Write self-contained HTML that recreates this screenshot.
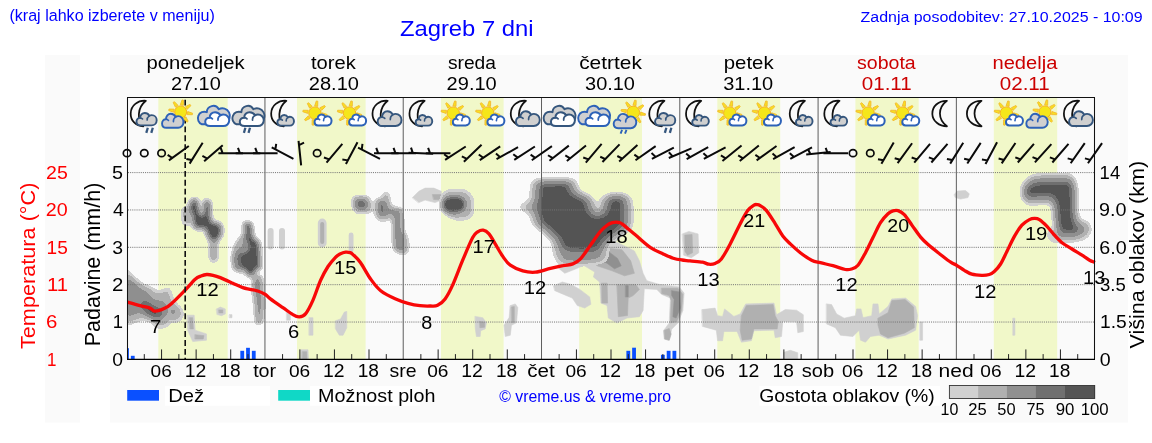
<!DOCTYPE html>
<html><head><meta charset="utf-8"><title>Zagreb 7 dni</title>
<style>html,body{margin:0;padding:0;background:#fff;}body{width:1152px;height:443px;overflow:hidden;font-family:"Liberation Sans",sans-serif;}svg{display:block;will-change:transform;}</style>
</head><body>
<svg width="1152" height="443" viewBox="0 0 1152 443" font-family="'Liberation Sans', sans-serif">
<rect width="1152" height="443" fill="#fff"/>
<rect x="45" y="55" width="35" height="367.5" fill="#fafafa"/>
<rect x="110" y="55" width="1018" height="367.5" fill="#fafafa"/>
<rect x="158.3" y="98" width="69.4" height="261" fill="#f1f8c9"/>
<rect x="297.0" y="98" width="68.6" height="261" fill="#f1f8c9"/>
<rect x="441.0" y="98" width="62.6" height="261" fill="#f1f8c9"/>
<rect x="579.2" y="98" width="62.8" height="261" fill="#f1f8c9"/>
<rect x="717.3" y="98" width="62.9" height="261" fill="#f1f8c9"/>
<rect x="855.4" y="98" width="63.3" height="261" fill="#f1f8c9"/>
<rect x="993.8" y="98" width="63.4" height="261" fill="#f1f8c9"/>
<defs><clipPath id="pc"><rect x="128" y="98" width="967" height="261"/></clipPath><filter id="cf" filterUnits="userSpaceOnUse" x="100" y="90" width="1010" height="280" color-interpolation-filters="sRGB"><feGaussianBlur stdDeviation="2.6"/><feColorMatrix type="matrix" values="0 0 0 1 0  0 0 0 1 0  0 0 0 1 0  0 0 0 1 0"/><feComponentTransfer><feFuncR type="discrete" tableValues="1 1 0.8157 0.8157 0.8157 0.6902 0.6902 0.6902 0.6902 0.6902 0.5647 0.5647 0.5647 0.5647 0.5647 0.4392 0.4392 0.4392 0.3333 0.3333"/><feFuncG type="discrete" tableValues="1 1 0.8157 0.8157 0.8157 0.6902 0.6902 0.6902 0.6902 0.6902 0.5647 0.5647 0.5647 0.5647 0.5647 0.4392 0.4392 0.4392 0.3333 0.3333"/><feFuncB type="discrete" tableValues="1 1 0.8157 0.8157 0.8157 0.6902 0.6902 0.6902 0.6902 0.6902 0.5647 0.5647 0.5647 0.5647 0.5647 0.4392 0.4392 0.4392 0.3333 0.3333"/><feFuncA type="discrete" tableValues="0 0 1 1 1 1 1 1 1 1 1 1 1 1 1 1 1 1 1 1"/></feComponentTransfer><feGaussianBlur stdDeviation="0.35"/></filter><filter id="cg" filterUnits="userSpaceOnUse" x="100" y="90" width="1010" height="280" color-interpolation-filters="sRGB"><feGaussianBlur stdDeviation="3.4 4.4"/><feColorMatrix type="matrix" values="0 0 0 1 0  0 0 0 1 0  0 0 0 1 0  0 0 0 1 0"/><feComponentTransfer><feFuncR type="discrete" tableValues="1 1 0.8157 0.8157 0.8157 0.6902 0.6902 0.6902 0.6902 0.6902 0.5647 0.5647 0.5647 0.5647 0.5647 0.5647 0.4392 0.4392 0.4392 0.3333"/><feFuncG type="discrete" tableValues="1 1 0.8157 0.8157 0.8157 0.6902 0.6902 0.6902 0.6902 0.6902 0.5647 0.5647 0.5647 0.5647 0.5647 0.5647 0.4392 0.4392 0.4392 0.3333"/><feFuncB type="discrete" tableValues="1 1 0.8157 0.8157 0.8157 0.6902 0.6902 0.6902 0.6902 0.6902 0.5647 0.5647 0.5647 0.5647 0.5647 0.5647 0.4392 0.4392 0.4392 0.3333"/><feFuncA type="discrete" tableValues="0 0 1 1 1 1 1 1 1 1 1 1 1 1 1 1 1 1 1 1"/></feComponentTransfer><feGaussianBlur stdDeviation="0.35"/></filter><filter id="ch" filterUnits="userSpaceOnUse" x="100" y="90" width="1010" height="280" color-interpolation-filters="sRGB"><feGaussianBlur stdDeviation="5 3"/><feColorMatrix type="matrix" values="0 0 0 1 0  0 0 0 1 0  0 0 0 1 0  0 0 0 1 0"/><feComponentTransfer><feFuncR type="discrete" tableValues="1 1 0.8157 0.8157 0.8157 0.6902 0.6902 0.6902 0.6902 0.6902 0.5647 0.5647 0.5647 0.5647 0.5647 0.5647 0.4392 0.4392 0.4392 0.3333"/><feFuncG type="discrete" tableValues="1 1 0.8157 0.8157 0.8157 0.6902 0.6902 0.6902 0.6902 0.6902 0.5647 0.5647 0.5647 0.5647 0.5647 0.5647 0.4392 0.4392 0.4392 0.3333"/><feFuncB type="discrete" tableValues="1 1 0.8157 0.8157 0.8157 0.6902 0.6902 0.6902 0.6902 0.6902 0.5647 0.5647 0.5647 0.5647 0.5647 0.5647 0.4392 0.4392 0.4392 0.3333"/><feFuncA type="discrete" tableValues="0 0 1 1 1 1 1 1 1 1 1 1 1 1 1 1 1 1 1 1"/></feComponentTransfer><feGaussianBlur stdDeviation="0.35"/></filter><filter id="cb" x="-5%" y="-5%" width="110%" height="110%"><feGaussianBlur stdDeviation="0.4"/></filter></defs>
<g clip-path="url(#pc)">
<g filter="url(#cb)" stroke-linejoin="round" stroke-linecap="round">
<path d="M270.6 231.0L270.6 246.5" fill="none" stroke="#d0d0d0" stroke-width="6.0"/>
<path d="M282.0 231.0L282.0 246.5" fill="none" stroke="#d0d0d0" stroke-width="6.0"/>
<path d="M322.2 223.0L322.2 243.0" fill="none" stroke="#d0d0d0" stroke-width="8.8"/>
<path d="M351.1 235.0L351.1 250.0" fill="none" stroke="#d0d0d0" stroke-width="4.8"/>
<path d="M400.0 207.0L403.0 209.0L403.0 218.0L400.0 220.0Z" fill="#d0d0d0" stroke="#d0d0d0" stroke-width="0.6"/>
<path d="M187.2 315.2L194.2 315.2L195.2 330.2L206.5 333.9L206.5 340.2L192.7 341.5L187.7 330.2Z" fill="#d0d0d0" stroke="#d0d0d0" stroke-width="0.6"/>
<path d="M216.5 308.9L220.3 307.1L225.3 308.9L225.3 313.9L221.5 315.7L217.2 314.6Z" fill="#d0d0d0" stroke="#d0d0d0" stroke-width="0.6"/>
<path d="M229.5 314.6L232.0 314.6L232.0 317.7L229.5 317.7Z" fill="#d0d0d0" stroke="#d0d0d0" stroke-width="0.6"/>
<path d="M286.7 311.4L290.4 311.4L290.4 320.2L286.7 320.2Z" fill="#d0d0d0" stroke="#d0d0d0" stroke-width="0.6"/>
<path d="M309.2 317.7L313.0 317.7L313.0 335.2L309.2 335.2Z" fill="#d0d0d0" stroke="#d0d0d0" stroke-width="0.6"/>
<path d="M335.5 320.7L340.6 318.9L344.3 312.1L346.8 311.4L346.8 327.7L343.1 335.2L339.3 335.2L335.5 328.9Z" fill="#d0d0d0" stroke="#d0d0d0" stroke-width="0.6"/>
<path d="M301.0 349.7L308.0 349.7L308.5 360.3L300.5 360.3Z" fill="#d0d0d0" stroke="#d0d0d0" stroke-width="0.6"/>
<path d="M412.5 197.6L418.8 191.3L425.1 188.1L433.8 188.1L441.4 191.3L441.4 200.1L435.1 202.6L425.1 200.1L418.8 202.6Z" fill="#d0d0d0" stroke="#d0d0d0" stroke-width="0.6"/>
<path d="M556.1 241.0L558.6 268.3L564.8 273.3L577.3 268.3L583.5 265.3L594.7 272.0L593.4 277.0L599.6 282.0L600.9 303.1L607.1 305.6L608.3 318.0L617.0 323.0L627.0 318.0L639.4 316.7L643.1 310.5L644.3 288.7L656.8 289.4L661.7 294.4L670.4 298.1L669.2 323.0L663.7 330.4L664.2 339.1L669.2 340.3L671.7 329.2L677.9 323.0L682.9 310.5L684.1 293.1L679.1 286.9L659.3 284.4L646.8 280.7L643.1 273.3L639.4 260.8L634.4 250.9L614.5 241.0Z" fill="#d0d0d0" stroke="#d0d0d0" stroke-width="0.6"/>
<path d="M553.7 285.7L562.4 282.0L571.1 284.4L579.8 289.4L589.7 296.9L590.9 304.3L584.7 308.0L577.3 305.6L572.3 298.1L563.6 294.4L554.9 290.7Z" fill="#d0d0d0" stroke="#d0d0d0" stroke-width="0.6"/>
<path d="M475.2 316.4L482.7 317.7L486.5 322.7L485.2 328.9L480.7 330.7L480.2 336.5L476.4 336.5L475.2 327.7Z" fill="#d0d0d0" stroke="#d0d0d0" stroke-width="0.6"/>
<path d="M510.3 305.6L515.3 303.9L517.8 307.6L516.5 322.7L511.5 325.2L510.3 335.2L505.3 336.5L504.0 325.2L509.0 317.7Z" fill="#d0d0d0" stroke="#d0d0d0" stroke-width="0.6"/>
<path d="M682.5 233.9L688.8 231.4L698.1 233.9L698.8 252.7L691.3 257.7L683.8 255.2Z" fill="#d0d0d0" stroke="#d0d0d0" stroke-width="0.6"/>
<path d="M702.1 309.6L715.1 308.1L717.6 315.7L722.6 316.4L724.6 308.9L733.9 316.4L740.2 313.9L745.7 303.9L774.0 303.1L776.5 314.7L785.3 309.6L796.5 310.2L803.3 314.7L803.3 331.5L797.8 332.7L796.5 321.4L782.8 321.4L781.5 336.5L775.2 337.7L774.0 330.2L753.9 330.7L751.4 340.7L741.4 342.2L737.1 331.5L723.9 331.5L722.6 340.7L717.6 340.7L716.3 330.2L702.6 326.4Z" fill="#d0d0d0" stroke="#d0d0d0" stroke-width="0.6"/>
<path d="M826.6 303.9L831.6 304.6L836.6 313.9L844.2 318.2L855.4 315.7L856.7 308.9L861.0 308.9L863.0 317.7L871.7 315.7L873.0 303.9L878.0 303.9L879.2 313.9L888.0 306.4L891.8 298.9L905.6 298.1L915.6 306.4L917.6 315.7L915.6 330.2L905.6 335.2L888.0 339.0L879.2 335.2L870.5 336.5L865.5 342.2L860.5 340.2L859.2 330.2L852.9 336.5L840.4 335.2L835.4 327.7L826.6 323.9Z" fill="#d0d0d0" stroke="#d0d0d0" stroke-width="0.6"/>
<path d="M920.1 322.2L922.6 322.2L922.6 340.2L920.1 340.2Z" fill="#d0d0d0" stroke="#d0d0d0" stroke-width="0.6"/>
<path d="M784.0 352.3L790.3 350.3L797.8 352.8L797.8 360.3L784.0 360.3Z" fill="#d0d0d0" stroke="#d0d0d0" stroke-width="0.6"/>
<path d="M954.2 194.6L957.2 191.1L965.5 190.6L969.3 193.8L968.0 197.6L960.5 199.1L955.5 197.6Z" fill="#d0d0d0" stroke="#d0d0d0" stroke-width="0.6"/>
<path d="M1013.1 318.2L1014.9 318.2L1014.9 335.2L1013.1 335.2Z" fill="#d0d0d0" stroke="#d0d0d0" stroke-width="0.6"/>
<path d="M322.2 224.0L322.2 242.0" fill="none" stroke="#b0b0b0" stroke-width="4.0"/>
<path d="M189.2 317.7L192.7 317.7L193.4 328.9L190.2 328.9Z" fill="#b0b0b0" stroke="#b0b0b0" stroke-width="0.6"/>
<path d="M195.2 334.7L204.0 335.7L203.2 339.0L195.2 339.0Z" fill="#b0b0b0" stroke="#b0b0b0" stroke-width="0.6"/>
<path d="M219.0 309.9L222.8 309.9L222.8 312.9L219.2 312.9Z" fill="#b0b0b0" stroke="#b0b0b0" stroke-width="0.6"/>
<path d="M302.5 351.7L306.7 351.7L307.0 360.3L302.2 360.3Z" fill="#b0b0b0" stroke="#b0b0b0" stroke-width="0.6"/>
<path d="M432.6 194.6L442.6 194.6L442.6 200.1L433.8 199.6Z" fill="#b0b0b0" stroke="#b0b0b0" stroke-width="0.6"/>
<path d="M601.6 283.2L607.1 283.2L607.6 303.1L602.1 303.1Z" fill="#b0b0b0" stroke="#b0b0b0" stroke-width="0.6"/>
<path d="M617.0 284.4L635.7 284.4L639.4 289.4L633.2 295.6L628.2 298.1L627.5 315.5L618.3 316.7L617.5 298.1Z" fill="#b0b0b0" stroke="#b0b0b0" stroke-width="0.6"/>
<path d="M661.7 288.2L677.9 288.2L682.9 294.4L681.6 310.5L676.6 321.7L670.4 323.0L671.2 300.6L669.2 295.6L661.7 293.6Z" fill="#b0b0b0" stroke="#b0b0b0" stroke-width="0.6"/>
<path d="M664.2 330.4L669.2 328.4L671.2 334.1L669.2 340.3L665.0 339.1Z" fill="#b0b0b0" stroke="#b0b0b0" stroke-width="0.6"/>
<path d="M584.7 245.9L622.0 249.7L630.7 260.8L634.4 273.3L624.5 275.8L612.0 270.8L597.1 265.8L588.4 258.4Z" fill="#b0b0b0" stroke="#b0b0b0" stroke-width="0.6"/>
<path d="M479.7 321.4L484.7 322.2L484.7 327.2L480.2 327.7Z" fill="#b0b0b0" stroke="#b0b0b0" stroke-width="0.6"/>
<path d="M511.5 307.1L514.3 306.6L514.3 322.2L511.8 322.7Z" fill="#b0b0b0" stroke="#b0b0b0" stroke-width="0.6"/>
<path d="M685.0 235.1L692.1 234.6L692.6 252.7L687.5 255.2L685.0 251.4Z" fill="#b0b0b0" stroke="#b0b0b0" stroke-width="0.6"/>
<path d="M741.4 315.7L746.4 305.6L773.2 304.6L775.2 315.7L778.2 321.4L777.2 328.9L753.9 328.9L751.4 339.0L742.2 340.2L740.2 330.2Z" fill="#b0b0b0" stroke="#b0b0b0" stroke-width="0.6"/>
<path d="M878.0 318.2L888.0 312.7L891.8 300.6L905.1 299.6L913.6 307.1L914.3 327.7L904.3 333.2L888.0 337.7L880.5 334.0L878.0 325.2Z" fill="#b0b0b0" stroke="#b0b0b0" stroke-width="0.6"/>
<path d="M671.7 290.7L679.1 291.9L680.4 308.0L676.1 318.0L672.9 316.7L674.2 299.4L671.7 295.6Z" fill="#909090" stroke="#909090" stroke-width="0.6"/>
<path d="M595.9 248.4L609.6 252.4L617.5 258.4L621.2 265.8L614.5 268.8L607.1 263.3L596.6 258.4Z" fill="#909090" stroke="#909090" stroke-width="0.6"/>
<path d="M625.7 285.7L628.2 285.7L628.2 296.9L625.7 296.9Z" fill="#909090" stroke="#909090" stroke-width="0.6"/>
</g>
<g filter="url(#cf)">
<path d="M189.7 204.0L192.7 199.0L197.1 199.7L198.9 208.7L200.1 214.6L202.7 216.4L204.1 210.4L204.1 202.4L206.7 199.4L209.9 202.4L210.3 217.9L211.9 222.9L217.3 222.6L221.5 226.3L221.5 234.6L217.3 240.0L213.6 240.8L209.4 239.1L206.9 233.8L205.2 227.9L201.1 228.3L196.9 229.1L193.5 225.8L192.7 217.1L190.2 210.4Z" fill="#000" fill-opacity="1.0"/>
<path d="M209.9 239.6L217.3 240.5L217.1 258.8L213.6 262.2L210.1 258.8Z" fill="#000" fill-opacity="0.5"/>
<path d="M182.4 209.5L189.4 206.2L190.7 223.8L183.4 224.6Z" fill="#000" fill-opacity="0.42"/>
<path d="M244.2 223.1L251.2 223.1L252.2 235.1L254.5 239.6L259.1 242.5L260.4 268.9L242.0 268.9L244.5 258.0L248.7 247.1L245.2 236.3Z" fill="#000" fill-opacity="1.0"/>
<path d="M242.5 234.6L234.5 247.1L233.2 268.9L242.8 268.9L247.9 247.1L246.5 237.1Z" fill="#000" fill-opacity="0.5"/>
<path d="M239.8 252.5L257.3 252.5L257.3 265.0L254.1 275.1L249.1 276.3L244.1 270.0L240.3 262.5Z" fill="#000" fill-opacity="0.97"/>
<path d="M232.8 252.5L240.3 252.5L242.8 270.0L237.8 272.5L233.3 265.0Z" fill="#000" fill-opacity="0.5"/>
<path d="M254.1 275.1L261.6 277.6L263.4 305.1L261.6 322.7L256.6 323.9L255.3 305.1L252.8 285.1Z" fill="#000" fill-opacity="0.62"/>
<path d="M355.1 200.1L360.6 198.3L366.9 200.1L368.6 205.1L365.6 209.6L358.1 209.6L354.3 206.4Z" fill="#000" fill-opacity="0.8"/>
<path d="M353.1 196.3L368.1 196.3L371.9 205.1L370.6 213.1L355.6 213.1L352.6 205.1Z" fill="#000" fill-opacity="0.3"/>
<path d="M377.6 202.1L383.2 200.8L384.2 215.1L379.4 216.9Z" fill="#000" fill-opacity="0.85"/>
<path d="M383.2 193.1L388.7 193.1L389.2 205.1L383.2 205.1Z" fill="#000" fill-opacity="0.4"/>
<path d="M392.7 208.9L401.7 208.9L402.5 250.2L394.4 250.2Z" fill="#000" fill-opacity="0.66"/>
<path d="M383.2 205.1L394.4 207.6L394.4 215.6L383.2 216.9Z" fill="#000" fill-opacity="0.42"/>
<path d="M374.4 202.6L378.1 197.6L390.2 202.6L390.7 218.9L380.7 221.4L375.1 215.1Z" fill="#000" fill-opacity="0.3"/>
<path d="M398.0 230.0L405.0 233.0L408.0 244.0L407.0 253.0L399.0 254.0Z" fill="#000" fill-opacity="0.45"/>
<path d="M125.0 267.5L135.0 278.1L143.1 284.6L150.6 287.1L157.6 292.1L164.6 289.6L169.1 287.1L171.9 296.4L176.6 305.1L181.9 308.9L183.2 316.4L177.6 321.9L170.1 321.2L166.6 326.9L157.6 328.2L150.1 320.7L142.6 319.4L135.0 321.9L125.0 325.7Z" fill="#000" fill-opacity="0.3"/>
<path d="M125.0 276.3L133.8 282.1L140.1 288.3L147.6 292.1L152.6 298.4L157.6 300.9L162.6 299.6L166.9 305.1L166.9 315.2L160.1 321.2L152.6 319.4L145.1 314.4L137.5 313.1L131.3 315.7L125.0 316.9Z" fill="#000" fill-opacity="0.55"/>
<path d="M140.1 302.6L148.1 302.6L154.6 308.1L162.1 310.6L160.6 317.7L153.3 317.7L145.8 313.6Z" fill="#000" fill-opacity="0.75"/>
<path d="M168.9 307.6L177.1 308.1L178.1 315.2L170.1 316.4Z" fill="#000" fill-opacity="0.4"/>
<path d="M441.1 205.1L443.6 199.1L449.6 196.3L458.6 196.1L464.7 199.6L466.2 205.1L463.2 211.1L455.6 213.6L448.1 213.1L443.1 210.1Z" fill="#000" fill-opacity="1.0"/>
<path d="M442.1 193.8L450.1 189.6L466.4 190.6L473.2 198.1L473.2 214.6L466.7 219.6L454.1 219.6L446.6 214.6L441.6 205.1Z" fill="#000" fill-opacity="0.3"/>
</g>
<g filter="url(#cg)">
<path d="M1023.1 188.6L1029.3 181.1L1036.7 178.6L1070.3 177.9L1074.5 184.8L1075.2 215.9L1077.7 225.1L1081.4 228.3L1076.5 234.5L1067.8 237.0L1059.1 234.5L1056.1 227.1L1054.6 204.7L1051.6 199.8L1039.2 199.8L1029.3 201.0L1023.8 197.3Z" fill="#000" fill-opacity="1.0"/>
<path d="M1072.7 222.1L1085.9 224.1L1090.9 229.6L1082.9 236.5L1071.0 238.3L1064.0 234.5Z" fill="#000" fill-opacity="0.66"/>
<path d="M1048.6 230.8L1059.1 233.5L1067.8 240.7L1052.9 240.0L1047.2 235.8Z" fill="#000" fill-opacity="0.42"/>
</g>
<g filter="url(#ch)">
<path d="M536.1 181.4L571.6 180.9L574.1 189.9L575.1 192.8L585.8 196.8L591.0 202.3L592.5 210.2L596.5 215.7L602.4 211.7L605.4 198.3L615.6 194.8L626.3 197.3L627.8 205.3L627.8 226.4L619.3 233.1L609.4 240.0L600.7 250.5L584.5 252.5L569.6 251.7L559.7 248.0L554.7 238.8L547.3 231.4L536.8 223.2L533.9 209.0L534.8 200.3Z" fill="#000" fill-opacity="1.0"/>
<path d="M519.9 205.3L534.8 200.8L537.3 213.2L524.9 211.2Z" fill="#000" fill-opacity="0.36"/>
<path d="M557.4 241.0L602.1 241.0L605.1 253.4L603.4 260.8L579.8 263.8L561.1 262.8L556.9 253.4Z" fill="#000" fill-opacity="0.62"/>
</g>
</g>
<rect x="264.44" y="98" width="1.0" height="261" fill="#5e5e5e"/>
<rect x="402.72" y="98" width="1.0" height="261" fill="#5e5e5e"/>
<rect x="541.01" y="98" width="1.0" height="261" fill="#5e5e5e"/>
<rect x="679.29" y="98" width="1.0" height="261" fill="#5e5e5e"/>
<rect x="817.58" y="98" width="1.0" height="261" fill="#5e5e5e"/>
<rect x="955.86" y="98" width="1.0" height="261" fill="#5e5e5e"/>
<line x1="128" x2="1095" y1="322.04" y2="322.04" stroke="#747474" stroke-width="1" stroke-dasharray="1.05 1.08"/>
<line x1="128" x2="1095" y1="284.68" y2="284.68" stroke="#747474" stroke-width="1" stroke-dasharray="1.05 1.08"/>
<line x1="128" x2="1095" y1="247.32" y2="247.32" stroke="#747474" stroke-width="1" stroke-dasharray="1.05 1.08"/>
<line x1="128" x2="1095" y1="209.96" y2="209.96" stroke="#747474" stroke-width="1" stroke-dasharray="1.05 1.08"/>
<line x1="128" x2="1095" y1="172.60" y2="172.60" stroke="#747474" stroke-width="1" stroke-dasharray="1.05 1.08"/>
<rect x="128.00" y="348.20" width="0.90" height="10.80" fill="#0a50ff"/>
<rect x="130.86" y="355.80" width="3.80" height="3.20" fill="#0a50ff"/>
<rect x="240.34" y="350.80" width="3.80" height="8.20" fill="#0a50ff"/>
<rect x="246.10" y="347.80" width="3.80" height="11.20" fill="#0a50ff"/>
<rect x="251.86" y="350.80" width="3.80" height="8.20" fill="#0a50ff"/>
<rect x="626.39" y="350.80" width="3.80" height="8.20" fill="#0a50ff"/>
<rect x="632.15" y="347.70" width="3.80" height="11.30" fill="#0a50ff"/>
<rect x="660.96" y="354.80" width="3.80" height="4.20" fill="#0a50ff"/>
<rect x="666.72" y="350.80" width="3.80" height="8.20" fill="#0a50ff"/>
<rect x="672.48" y="350.80" width="3.80" height="8.20" fill="#0a50ff"/>
<line x1="144.29" x2="144.29" y1="354.1" y2="359.5" stroke="#222" stroke-width="1"/>
<line x1="161.57" x2="161.57" y1="349.4" y2="359.5" stroke="#222" stroke-width="1"/>
<line x1="178.86" x2="178.86" y1="354.1" y2="359.5" stroke="#222" stroke-width="1"/>
<line x1="196.14" x2="196.14" y1="349.4" y2="359.5" stroke="#222" stroke-width="1"/>
<line x1="213.43" x2="213.43" y1="354.1" y2="359.5" stroke="#222" stroke-width="1"/>
<line x1="230.71" x2="230.71" y1="349.4" y2="359.5" stroke="#222" stroke-width="1"/>
<line x1="248.00" x2="248.00" y1="354.1" y2="359.5" stroke="#222" stroke-width="1"/>
<line x1="282.57" x2="282.57" y1="354.1" y2="359.5" stroke="#222" stroke-width="1"/>
<line x1="299.86" x2="299.86" y1="349.4" y2="359.5" stroke="#222" stroke-width="1"/>
<line x1="317.14" x2="317.14" y1="354.1" y2="359.5" stroke="#222" stroke-width="1"/>
<line x1="334.43" x2="334.43" y1="349.4" y2="359.5" stroke="#222" stroke-width="1"/>
<line x1="351.71" x2="351.71" y1="354.1" y2="359.5" stroke="#222" stroke-width="1"/>
<line x1="369.00" x2="369.00" y1="349.4" y2="359.5" stroke="#222" stroke-width="1"/>
<line x1="386.29" x2="386.29" y1="354.1" y2="359.5" stroke="#222" stroke-width="1"/>
<line x1="420.86" x2="420.86" y1="354.1" y2="359.5" stroke="#222" stroke-width="1"/>
<line x1="438.14" x2="438.14" y1="349.4" y2="359.5" stroke="#222" stroke-width="1"/>
<line x1="455.43" x2="455.43" y1="354.1" y2="359.5" stroke="#222" stroke-width="1"/>
<line x1="472.71" x2="472.71" y1="349.4" y2="359.5" stroke="#222" stroke-width="1"/>
<line x1="490.00" x2="490.00" y1="354.1" y2="359.5" stroke="#222" stroke-width="1"/>
<line x1="507.29" x2="507.29" y1="349.4" y2="359.5" stroke="#222" stroke-width="1"/>
<line x1="524.57" x2="524.57" y1="354.1" y2="359.5" stroke="#222" stroke-width="1"/>
<line x1="559.14" x2="559.14" y1="354.1" y2="359.5" stroke="#222" stroke-width="1"/>
<line x1="576.43" x2="576.43" y1="349.4" y2="359.5" stroke="#222" stroke-width="1"/>
<line x1="593.71" x2="593.71" y1="354.1" y2="359.5" stroke="#222" stroke-width="1"/>
<line x1="611.00" x2="611.00" y1="349.4" y2="359.5" stroke="#222" stroke-width="1"/>
<line x1="628.29" x2="628.29" y1="354.1" y2="359.5" stroke="#222" stroke-width="1"/>
<line x1="645.57" x2="645.57" y1="349.4" y2="359.5" stroke="#222" stroke-width="1"/>
<line x1="662.86" x2="662.86" y1="354.1" y2="359.5" stroke="#222" stroke-width="1"/>
<line x1="697.43" x2="697.43" y1="354.1" y2="359.5" stroke="#222" stroke-width="1"/>
<line x1="714.71" x2="714.71" y1="349.4" y2="359.5" stroke="#222" stroke-width="1"/>
<line x1="732.00" x2="732.00" y1="354.1" y2="359.5" stroke="#222" stroke-width="1"/>
<line x1="749.29" x2="749.29" y1="349.4" y2="359.5" stroke="#222" stroke-width="1"/>
<line x1="766.57" x2="766.57" y1="354.1" y2="359.5" stroke="#222" stroke-width="1"/>
<line x1="783.86" x2="783.86" y1="349.4" y2="359.5" stroke="#222" stroke-width="1"/>
<line x1="801.14" x2="801.14" y1="354.1" y2="359.5" stroke="#222" stroke-width="1"/>
<line x1="835.71" x2="835.71" y1="354.1" y2="359.5" stroke="#222" stroke-width="1"/>
<line x1="853.00" x2="853.00" y1="349.4" y2="359.5" stroke="#222" stroke-width="1"/>
<line x1="870.29" x2="870.29" y1="354.1" y2="359.5" stroke="#222" stroke-width="1"/>
<line x1="887.57" x2="887.57" y1="349.4" y2="359.5" stroke="#222" stroke-width="1"/>
<line x1="904.86" x2="904.86" y1="354.1" y2="359.5" stroke="#222" stroke-width="1"/>
<line x1="922.14" x2="922.14" y1="349.4" y2="359.5" stroke="#222" stroke-width="1"/>
<line x1="939.43" x2="939.43" y1="354.1" y2="359.5" stroke="#222" stroke-width="1"/>
<line x1="974.00" x2="974.00" y1="354.1" y2="359.5" stroke="#222" stroke-width="1"/>
<line x1="991.29" x2="991.29" y1="349.4" y2="359.5" stroke="#222" stroke-width="1"/>
<line x1="1008.57" x2="1008.57" y1="354.1" y2="359.5" stroke="#222" stroke-width="1"/>
<line x1="1025.86" x2="1025.86" y1="349.4" y2="359.5" stroke="#222" stroke-width="1"/>
<line x1="1043.14" x2="1043.14" y1="354.1" y2="359.5" stroke="#222" stroke-width="1"/>
<line x1="1060.43" x2="1060.43" y1="349.4" y2="359.5" stroke="#222" stroke-width="1"/>
<line x1="1077.71" x2="1077.71" y1="354.1" y2="359.5" stroke="#222" stroke-width="1"/>
<path d="M127.5 302.1C129.6 302.7 136.2 304.6 140.0 305.6C143.8 306.6 147.5 307.2 150.0 308.1C152.5 309.0 152.6 311.1 155.1 311.1C157.6 311.1 162.2 309.5 165.1 308.1C168.0 306.7 169.2 305.6 172.6 302.6C175.9 299.6 181.4 293.9 185.2 290.0C189.0 286.1 192.6 281.6 195.2 279.3C197.8 277.0 199.1 276.8 201.0 276.0C202.9 275.2 204.8 274.6 206.8 274.5C208.8 274.4 210.8 274.8 213.0 275.3C215.2 275.8 217.0 276.3 220.3 277.6C223.6 278.9 229.1 281.5 232.8 283.2C236.6 284.9 239.9 286.6 242.8 287.6C245.7 288.6 247.5 288.7 250.0 289.3C252.5 289.9 255.2 290.1 257.8 291.0C260.4 291.9 263.3 293.2 265.4 294.5C267.5 295.8 267.5 296.7 270.4 298.9C273.3 301.1 279.1 305.0 282.9 307.6C286.6 310.2 290.2 313.1 292.9 314.6C295.6 316.2 297.1 317.0 299.2 316.9C301.3 316.8 303.2 316.7 305.5 313.9C307.8 311.1 310.5 305.7 313.0 300.1C315.5 294.5 318.0 286.1 320.5 280.5C323.0 274.9 325.5 270.4 328.0 266.5C330.5 262.6 333.5 259.4 335.5 257.3C337.5 255.2 338.3 254.9 340.0 254.0C341.7 253.1 343.9 252.3 345.6 252.1C347.3 251.9 348.8 252.2 350.0 252.6C351.2 253.0 351.2 252.9 353.0 254.6C354.8 256.3 357.7 258.6 360.6 262.7C363.5 266.8 367.2 274.3 370.6 279.0C374.0 283.7 376.5 287.4 380.7 290.7C384.9 294.0 391.1 296.9 395.7 299.0C400.2 301.1 403.9 302.2 408.0 303.3C412.1 304.4 416.3 305.2 420.0 305.6C423.7 306.1 427.1 306.1 430.0 306.0C432.9 305.9 435.1 306.5 437.6 305.3C440.1 304.1 442.6 302.4 445.1 299.0C447.6 295.6 449.7 291.7 452.6 285.2C455.5 278.7 459.4 268.1 462.7 260.2C466.0 252.3 470.2 242.3 472.7 237.6C475.2 232.9 475.9 233.1 477.7 231.8C479.4 230.6 481.3 229.8 483.2 230.1C485.1 230.4 487.0 231.5 489.0 233.8C491.0 236.1 492.9 240.1 495.2 243.9C497.5 247.7 500.3 252.8 502.8 256.4C505.3 259.9 507.0 262.8 510.3 265.2C513.6 267.6 518.6 269.7 522.8 270.9C527.0 272.1 530.7 272.6 535.3 272.2C539.9 271.8 545.8 269.5 550.4 268.4C555.0 267.3 559.1 266.4 562.9 265.7C566.6 264.9 570.0 265.0 572.9 263.9C575.8 262.8 577.6 262.0 580.5 258.9C583.4 255.8 587.2 249.7 590.5 245.1C593.8 240.5 597.6 234.7 600.5 231.3C603.4 227.9 606.0 226.1 608.0 224.6C610.0 223.1 611.2 223.0 612.5 222.6C613.8 222.2 614.8 222.1 616.0 222.1C617.2 222.1 618.3 222.2 619.5 222.6C620.7 223.0 620.3 222.5 623.0 224.6C625.7 226.7 631.0 231.3 635.6 235.1C640.2 238.9 646.0 244.5 650.6 247.6C655.2 250.7 659.4 252.1 663.2 253.9C667.0 255.7 670.1 257.2 673.2 258.2C676.3 259.2 679.2 259.6 682.0 260.0C684.8 260.4 686.6 260.5 690.0 260.9C693.4 261.3 699.5 261.6 702.6 262.2C705.7 262.8 706.7 264.0 708.8 264.2C710.9 264.4 713.0 264.3 715.1 263.4C717.2 262.5 718.9 262.1 721.4 258.9C723.9 255.6 727.1 249.8 730.2 243.9C733.3 238.1 737.3 229.4 740.2 223.8C743.1 218.2 745.4 213.7 747.7 210.6C750.0 207.5 752.5 206.2 754.0 205.2C755.5 204.2 756.0 204.5 757.0 204.6C758.0 204.7 758.6 204.6 760.2 205.6C761.8 206.6 764.0 207.6 766.5 210.6C769.0 213.6 772.6 219.6 775.3 223.8C778.0 228.0 780.3 232.6 782.8 235.9C785.3 239.2 787.4 241.1 790.3 243.9C793.2 246.7 796.8 250.0 800.3 252.7C803.8 255.4 808.2 258.5 811.6 260.2C815.0 261.9 816.9 261.8 820.4 262.7C823.9 263.6 828.7 264.6 832.9 265.7C837.1 266.8 842.3 268.9 845.4 269.5C848.5 270.1 849.6 269.7 851.7 269.0C853.8 268.3 855.7 267.9 858.0 265.2C860.3 262.5 863.0 257.3 865.5 252.7C868.0 248.1 870.5 242.6 873.0 237.6C875.5 232.6 878.0 226.6 880.5 222.6C883.0 218.6 885.9 215.8 888.0 213.8C890.1 211.8 891.3 211.3 893.0 210.8C894.7 210.3 896.1 210.0 898.0 210.6C899.9 211.2 902.0 212.2 904.3 214.6C906.6 217.0 909.2 221.3 911.9 225.1C914.6 228.8 917.9 233.8 920.6 237.1C923.3 240.3 925.2 242.0 928.1 244.6C931.0 247.2 934.4 249.8 938.2 252.7C942.0 255.6 947.6 260.1 950.7 262.2C953.8 264.3 954.4 263.9 956.7 265.3C959.0 266.7 961.8 268.8 964.3 270.3C966.8 271.8 968.9 273.4 971.8 274.2C974.7 275.0 978.9 275.2 981.8 275.3C984.7 275.4 987.2 275.1 989.3 274.5C991.4 273.9 992.4 273.2 994.3 271.5C996.2 269.8 998.5 267.3 1000.6 264.0C1002.7 260.7 1004.6 256.1 1006.9 251.5C1009.2 246.9 1011.9 240.8 1014.4 236.4C1016.9 232.0 1019.4 228.0 1021.9 225.2C1024.4 222.4 1027.3 220.7 1029.4 219.6C1031.5 218.5 1032.7 218.4 1034.4 218.4C1036.1 218.4 1037.3 218.3 1039.4 219.6C1041.5 220.9 1044.5 223.8 1047.0 226.4C1049.5 229.0 1052.0 232.5 1054.5 235.2C1057.0 237.9 1059.1 240.4 1062.0 242.7C1064.9 245.0 1068.7 246.9 1072.0 249.0C1075.3 251.1 1079.1 253.3 1082.0 255.2C1084.9 257.1 1087.4 259.0 1089.6 260.2C1091.8 261.4 1094.1 262.0 1095.0 262.4" fill="none" stroke="#f80808" stroke-width="3.3" stroke-linejoin="round" stroke-linecap="butt"/>
<line x1="185.2" x2="185.2" y1="99.7" y2="359" stroke="#111" stroke-width="1.6" stroke-dasharray="5.9 3"/>
<path d="M127.5 359.5 V97.5 H1094.5 V359.5" fill="none" stroke="#111" stroke-width="1.05"/>
<line x1="127" x2="1095" y1="359.3" y2="359.3" stroke="#000" stroke-width="1.3"/>
<g>
<path d="M145.89 100.8C137.79 100.2 130.89 105.5 130.69 113.4C130.49 120.5 135.79 126.0 143.29 126.3C139.79 123.0 138.59 118.5 138.89 114.0C139.19 108.8 141.89 104.0 145.89 100.8Z" fill="none" stroke="#111" stroke-width="1.75" stroke-linejoin="round"/><path d="M140.53 125.40C138.00 125.40 136.49 123.80 136.49 121.56C136.49 119.32 138.10 117.83 140.22 117.93C140.12 115.16 142.14 113.03 144.77 113.03C146.79 113.03 148.40 114.09 149.31 115.80C150.02 115.37 150.83 115.16 151.74 115.16C154.56 115.16 156.69 117.51 156.69 120.28C156.69 123.16 154.46 125.40 151.64 125.40Z" fill="#d0d0d0" stroke="#35567d" stroke-width="1.9" stroke-linejoin="round"/><path d="M149.31 115.80C147.80 116.87 146.99 118.36 147.19 120.07M140.22 117.93C141.13 117.93 141.94 118.36 142.55 119.00" fill="none" stroke="#35567d" stroke-width="1.61" stroke-linecap="round"/><line x1="147.79" y1="127.8" x2="146.29" y2="132.9" stroke="#35567d" stroke-width="2.3"/><line x1="152.79" y1="127.8" x2="151.29" y2="132.9" stroke="#35567d" stroke-width="2.3"/>
<path d="M187.18 114.62L192.34 114.72L192.61 113.25L187.72 111.57Z" fill="#f7e120" stroke="#f4b830" stroke-width="0.9" stroke-linejoin="round"/><path d="M187.20 109.21L190.92 105.63L190.06 104.40L185.42 106.67Z" fill="#f7e120" stroke="#f4b830" stroke-width="0.9" stroke-linejoin="round"/><path d="M183.38 105.37L183.48 100.21L182.00 99.95L180.33 104.84Z" fill="#f7e120" stroke="#f4b830" stroke-width="0.9" stroke-linejoin="round"/><path d="M177.97 105.36L174.39 101.64L173.16 102.50L175.43 107.14Z" fill="#f7e120" stroke="#f4b830" stroke-width="0.9" stroke-linejoin="round"/><path d="M174.13 109.18L168.97 109.08L168.71 110.55L173.59 112.23Z" fill="#f7e120" stroke="#f4b830" stroke-width="0.9" stroke-linejoin="round"/><path d="M174.12 114.59L170.40 118.17L171.26 119.40L175.89 117.13Z" fill="#f7e120" stroke="#f4b830" stroke-width="0.9" stroke-linejoin="round"/><path d="M177.93 118.43L177.83 123.59L179.31 123.85L180.99 118.96Z" fill="#f7e120" stroke="#f4b830" stroke-width="0.9" stroke-linejoin="round"/><path d="M183.35 118.44L186.93 122.16L188.15 121.30L185.88 116.66Z" fill="#f7e120" stroke="#f4b830" stroke-width="0.9" stroke-linejoin="round"/><circle cx="180.66" cy="111.90" r="6.0" fill="#f5e61a" stroke="#f7b21a" stroke-width="1"/><path d="M166.34 127.80C163.66 127.80 162.06 125.97 162.06 123.42C162.06 120.87 163.77 119.16 166.02 119.28C165.91 116.12 168.05 113.69 170.83 113.69C172.97 113.69 174.68 114.90 175.65 116.85C176.40 116.36 177.25 116.12 178.21 116.12C181.21 116.12 183.46 118.80 183.46 121.96C183.46 125.25 181.10 127.80 178.11 127.80Z" fill="#d0d0d0" stroke="#2d62b8" stroke-width="1.9" stroke-linejoin="round"/><path d="M175.65 116.85C174.04 118.07 173.19 119.77 173.40 121.72M166.02 119.28C166.98 119.28 167.84 119.77 168.48 120.50" fill="none" stroke="#2d62b8" stroke-width="1.61" stroke-linecap="round"/>
<path d="M201.93 124.3A6.5 6.5 0 1 1 206.83 112.2A6.4 6.4 0 0 1 218.83 109.2A7 7 0 0 1 225.83 122.6L225.43 124.3Z" fill="#d0d0d0" stroke="#2d62b8" stroke-width="1.9" stroke-linejoin="round"/><path d="M210.03 126.10C207.03 126.10 205.23 124.30 205.23 121.78C205.23 119.26 207.15 117.58 209.67 117.70C209.55 114.58 211.95 112.18 215.07 112.18C217.47 112.18 219.39 113.38 220.47 115.30C221.31 114.82 222.27 114.58 223.35 114.58C226.71 114.58 229.23 117.22 229.23 120.34C229.23 123.58 226.59 126.10 223.23 126.10Z" fill="#fff" stroke="#2d62b8" stroke-width="2.0" stroke-linejoin="round"/><path d="M220.47 115.30C218.67 116.50 217.71 118.18 217.95 120.10M209.67 117.70C210.75 117.70 211.71 118.18 212.43 118.90" fill="none" stroke="#2d62b8" stroke-width="1.70" stroke-linecap="round"/>
<path d="M236.50 124.3A6.5 6.5 0 1 1 241.40 112.2A6.4 6.4 0 0 1 253.40 109.2A7 7 0 0 1 260.40 122.6L260.00 124.3Z" fill="#d0d0d0" stroke="#35567d" stroke-width="1.9" stroke-linejoin="round"/><path d="M244.60 126.10C241.60 126.10 239.80 124.30 239.80 121.78C239.80 119.26 241.72 117.58 244.24 117.70C244.12 114.58 246.52 112.18 249.64 112.18C252.04 112.18 253.96 113.38 255.04 115.30C255.88 114.82 256.84 114.58 257.92 114.58C261.28 114.58 263.80 117.22 263.80 120.34C263.80 123.58 261.16 126.10 257.80 126.10Z" fill="#fff" stroke="#35567d" stroke-width="2.0" stroke-linejoin="round"/><path d="M255.04 115.30C253.24 116.50 252.28 118.18 252.52 120.10M244.24 117.70C245.32 117.70 246.28 118.18 247.00 118.90" fill="none" stroke="#35567d" stroke-width="1.70" stroke-linecap="round"/><line x1="245.40" y1="127.8" x2="243.90" y2="132.9" stroke="#35567d" stroke-width="2.3"/><line x1="250.00" y1="127.8" x2="248.50" y2="132.9" stroke="#35567d" stroke-width="2.3"/>
<path d="M286.37 100.8C278.27 100.2 271.37 105.5 271.17 113.4C270.97 120.5 276.27 126.0 283.77 126.3C280.27 123.0 279.07 118.5 279.37 114.0C279.67 108.8 282.37 104.0 286.37 100.8Z" fill="none" stroke="#111" stroke-width="1.75" stroke-linejoin="round"/><path d="M280.69 125.60C278.62 125.60 277.37 124.22 277.37 122.30C277.37 120.38 278.70 119.09 280.44 119.18C280.36 116.80 282.02 114.97 284.18 114.97C285.84 114.97 287.17 115.88 287.91 117.35C288.49 116.98 289.16 116.80 289.90 116.80C292.23 116.80 293.97 118.82 293.97 121.20C293.97 123.67 292.15 125.60 289.82 125.60Z" fill="#d0d0d0" stroke="#35567d" stroke-width="1.9" stroke-linejoin="round"/><path d="M287.91 117.35C286.67 118.27 286.00 119.55 286.17 121.02M280.44 119.18C281.19 119.18 281.85 119.55 282.35 120.10" fill="none" stroke="#35567d" stroke-width="1.61" stroke-linecap="round"/>
<path d="M321.67 115.86L326.83 115.96L327.09 114.48L322.20 112.81Z" fill="#f7e120" stroke="#f4b830" stroke-width="0.9" stroke-linejoin="round"/><path d="M321.65 110.30L325.37 106.72L324.51 105.49L319.87 107.76Z" fill="#f7e120" stroke="#f4b830" stroke-width="0.9" stroke-linejoin="round"/><path d="M317.70 106.38L317.80 101.22L316.32 100.96L314.65 105.84Z" fill="#f7e120" stroke="#f4b830" stroke-width="0.9" stroke-linejoin="round"/><path d="M312.14 106.39L308.56 102.68L307.33 103.54L309.60 108.17Z" fill="#f7e120" stroke="#f4b830" stroke-width="0.9" stroke-linejoin="round"/><path d="M308.22 110.34L303.06 110.24L302.80 111.72L307.68 113.39Z" fill="#f7e120" stroke="#f4b830" stroke-width="0.9" stroke-linejoin="round"/><path d="M308.24 115.90L304.52 119.48L305.38 120.71L310.02 118.44Z" fill="#f7e120" stroke="#f4b830" stroke-width="0.9" stroke-linejoin="round"/><path d="M312.18 119.82L312.09 124.98L313.56 125.24L315.24 120.36Z" fill="#f7e120" stroke="#f4b830" stroke-width="0.9" stroke-linejoin="round"/><path d="M317.75 119.81L321.33 123.52L322.55 122.66L320.28 118.03Z" fill="#f7e120" stroke="#f4b830" stroke-width="0.9" stroke-linejoin="round"/><circle cx="314.94" cy="113.10" r="6.2" fill="#f5e61a" stroke="#f7b21a" stroke-width="1"/><path d="M317.94 125.40C315.82 125.40 314.54 123.97 314.54 121.98C314.54 119.98 315.90 118.66 317.69 118.75C317.60 116.28 319.30 114.38 321.51 114.38C323.21 114.38 324.57 115.33 325.34 116.85C325.93 116.47 326.61 116.28 327.38 116.28C329.76 116.28 331.54 118.37 331.54 120.84C331.54 123.41 329.67 125.40 327.29 125.40Z" fill="#fff" stroke="#2d62b8" stroke-width="2.0" stroke-linejoin="round"/><path d="M325.34 116.85C324.06 117.80 323.38 119.13 323.55 120.65M317.69 118.75C318.45 118.75 319.13 119.13 319.64 119.70" fill="none" stroke="#2d62b8" stroke-width="1.70" stroke-linecap="round"/>
<path d="M356.24 115.86L361.40 115.96L361.66 114.48L356.78 112.81Z" fill="#f7e120" stroke="#f4b830" stroke-width="0.9" stroke-linejoin="round"/><path d="M356.22 110.30L359.94 106.72L359.08 105.49L354.44 107.76Z" fill="#f7e120" stroke="#f4b830" stroke-width="0.9" stroke-linejoin="round"/><path d="M352.27 106.38L352.37 101.22L350.89 100.96L349.22 105.84Z" fill="#f7e120" stroke="#f4b830" stroke-width="0.9" stroke-linejoin="round"/><path d="M346.71 106.39L343.13 102.68L341.90 103.54L344.17 108.17Z" fill="#f7e120" stroke="#f4b830" stroke-width="0.9" stroke-linejoin="round"/><path d="M342.79 110.34L337.63 110.24L337.37 111.72L342.25 113.39Z" fill="#f7e120" stroke="#f4b830" stroke-width="0.9" stroke-linejoin="round"/><path d="M342.81 115.90L339.09 119.48L339.95 120.71L344.59 118.44Z" fill="#f7e120" stroke="#f4b830" stroke-width="0.9" stroke-linejoin="round"/><path d="M346.75 119.82L346.66 124.98L348.13 125.24L349.81 120.36Z" fill="#f7e120" stroke="#f4b830" stroke-width="0.9" stroke-linejoin="round"/><path d="M352.32 119.81L355.90 123.52L357.13 122.66L354.86 118.03Z" fill="#f7e120" stroke="#f4b830" stroke-width="0.9" stroke-linejoin="round"/><circle cx="349.51" cy="113.10" r="6.2" fill="#f5e61a" stroke="#f7b21a" stroke-width="1"/><path d="M352.51 125.40C350.39 125.40 349.11 123.97 349.11 121.98C349.11 119.98 350.47 118.66 352.26 118.75C352.17 116.28 353.87 114.38 356.08 114.38C357.78 114.38 359.14 115.33 359.91 116.85C360.50 116.47 361.18 116.28 361.95 116.28C364.33 116.28 366.11 118.37 366.11 120.84C366.11 123.41 364.24 125.40 361.86 125.40Z" fill="#fff" stroke="#2d62b8" stroke-width="2.0" stroke-linejoin="round"/><path d="M359.91 116.85C358.63 117.80 357.95 119.13 358.12 120.65M352.26 118.75C353.02 118.75 353.70 119.13 354.21 119.70" fill="none" stroke="#2d62b8" stroke-width="1.70" stroke-linecap="round"/>
<path d="M387.69 100.8C379.59 100.2 372.69 105.5 372.49 113.4C372.29 120.5 377.59 126.0 385.09 126.3C381.59 123.0 380.39 118.5 380.69 114.0C380.99 108.8 383.69 104.0 387.69 100.8Z" fill="none" stroke="#111" stroke-width="1.75" stroke-linejoin="round"/><path d="M382.45 126.00C379.47 126.00 377.69 124.10 377.69 121.44C377.69 118.78 379.59 117.01 382.09 117.13C381.97 113.84 384.35 111.31 387.44 111.31C389.82 111.31 391.73 112.57 392.80 114.60C393.63 114.09 394.58 113.84 395.65 113.84C398.99 113.84 401.49 116.63 401.49 119.92C401.49 123.34 398.87 126.00 395.54 126.00Z" fill="#d0d0d0" stroke="#35567d" stroke-width="1.9" stroke-linejoin="round"/><path d="M392.80 114.60C391.01 115.87 390.06 117.64 390.30 119.67M382.09 117.13C383.16 117.13 384.11 117.64 384.83 118.40" fill="none" stroke="#35567d" stroke-width="1.61" stroke-linecap="round"/>
<path d="M424.66 100.8C416.56 100.2 409.66 105.5 409.46 113.4C409.26 120.5 414.56 126.0 422.06 126.3C418.56 123.0 417.36 118.5 417.66 114.0C417.96 108.8 420.66 104.0 424.66 100.8Z" fill="none" stroke="#111" stroke-width="1.75" stroke-linejoin="round"/><path d="M418.98 125.60C416.90 125.60 415.66 124.22 415.66 122.30C415.66 120.38 416.99 119.09 418.73 119.18C418.65 116.80 420.31 114.97 422.46 114.97C424.12 114.97 425.45 115.88 426.20 117.35C426.78 116.98 427.44 116.80 428.19 116.80C430.51 116.80 432.26 118.82 432.26 121.20C432.26 123.67 430.43 125.60 428.11 125.60Z" fill="#d0d0d0" stroke="#35567d" stroke-width="1.9" stroke-linejoin="round"/><path d="M426.20 117.35C424.95 118.27 424.29 119.55 424.46 121.02M418.73 119.18C419.48 119.18 420.14 119.55 420.64 120.10" fill="none" stroke="#35567d" stroke-width="1.61" stroke-linecap="round"/>
<path d="M459.95 115.86L465.11 115.96L465.37 114.48L460.49 112.81Z" fill="#f7e120" stroke="#f4b830" stroke-width="0.9" stroke-linejoin="round"/><path d="M459.93 110.30L463.65 106.72L462.79 105.49L458.16 107.76Z" fill="#f7e120" stroke="#f4b830" stroke-width="0.9" stroke-linejoin="round"/><path d="M455.99 106.38L456.09 101.22L454.61 100.96L452.94 105.84Z" fill="#f7e120" stroke="#f4b830" stroke-width="0.9" stroke-linejoin="round"/><path d="M450.43 106.39L446.85 102.68L445.62 103.54L447.89 108.17Z" fill="#f7e120" stroke="#f4b830" stroke-width="0.9" stroke-linejoin="round"/><path d="M446.51 110.34L441.34 110.24L441.08 111.72L445.97 113.39Z" fill="#f7e120" stroke="#f4b830" stroke-width="0.9" stroke-linejoin="round"/><path d="M446.52 115.90L442.80 119.48L443.67 120.71L448.30 118.44Z" fill="#f7e120" stroke="#f4b830" stroke-width="0.9" stroke-linejoin="round"/><path d="M450.47 119.82L450.37 124.98L451.85 125.24L453.52 120.36Z" fill="#f7e120" stroke="#f4b830" stroke-width="0.9" stroke-linejoin="round"/><path d="M456.03 119.81L459.61 123.52L460.84 122.66L458.57 118.03Z" fill="#f7e120" stroke="#f4b830" stroke-width="0.9" stroke-linejoin="round"/><circle cx="453.23" cy="113.10" r="6.2" fill="#f5e61a" stroke="#f7b21a" stroke-width="1"/><path d="M456.23 125.40C454.10 125.40 452.83 123.97 452.83 121.98C452.83 119.98 454.19 118.66 455.97 118.75C455.89 116.28 457.59 114.38 459.80 114.38C461.50 114.38 462.86 115.33 463.62 116.85C464.22 116.47 464.90 116.28 465.66 116.28C468.04 116.28 469.83 118.37 469.83 120.84C469.83 123.41 467.96 125.40 465.58 125.40Z" fill="#fff" stroke="#2d62b8" stroke-width="2.0" stroke-linejoin="round"/><path d="M463.62 116.85C462.35 117.80 461.67 119.13 461.84 120.65M455.97 118.75C456.74 118.75 457.42 119.13 457.93 119.70" fill="none" stroke="#2d62b8" stroke-width="1.70" stroke-linecap="round"/>
<path d="M494.52 115.86L499.68 115.96L499.94 114.48L495.06 112.81Z" fill="#f7e120" stroke="#f4b830" stroke-width="0.9" stroke-linejoin="round"/><path d="M494.51 110.30L498.22 106.72L497.36 105.49L492.73 107.76Z" fill="#f7e120" stroke="#f4b830" stroke-width="0.9" stroke-linejoin="round"/><path d="M490.56 106.38L490.66 101.22L489.18 100.96L487.51 105.84Z" fill="#f7e120" stroke="#f4b830" stroke-width="0.9" stroke-linejoin="round"/><path d="M485.00 106.39L481.42 102.68L480.19 103.54L482.46 108.17Z" fill="#f7e120" stroke="#f4b830" stroke-width="0.9" stroke-linejoin="round"/><path d="M481.08 110.34L475.92 110.24L475.66 111.72L480.54 113.39Z" fill="#f7e120" stroke="#f4b830" stroke-width="0.9" stroke-linejoin="round"/><path d="M481.09 115.90L477.38 119.48L478.24 120.71L482.87 118.44Z" fill="#f7e120" stroke="#f4b830" stroke-width="0.9" stroke-linejoin="round"/><path d="M485.04 119.82L484.94 124.98L486.42 125.24L488.09 120.36Z" fill="#f7e120" stroke="#f4b830" stroke-width="0.9" stroke-linejoin="round"/><path d="M490.60 119.81L494.18 123.52L495.41 122.66L493.14 118.03Z" fill="#f7e120" stroke="#f4b830" stroke-width="0.9" stroke-linejoin="round"/><circle cx="487.80" cy="113.10" r="6.2" fill="#f5e61a" stroke="#f7b21a" stroke-width="1"/><path d="M490.80 125.40C488.67 125.40 487.40 123.97 487.40 121.98C487.40 119.98 488.76 118.66 490.54 118.75C490.46 116.28 492.16 114.38 494.37 114.38C496.07 114.38 497.43 115.33 498.19 116.85C498.79 116.47 499.47 116.28 500.23 116.28C502.61 116.28 504.40 118.37 504.40 120.84C504.40 123.41 502.53 125.40 500.15 125.40Z" fill="#fff" stroke="#2d62b8" stroke-width="2.0" stroke-linejoin="round"/><path d="M498.19 116.85C496.92 117.80 496.24 119.13 496.41 120.65M490.54 118.75C491.31 118.75 491.99 119.13 492.50 119.70" fill="none" stroke="#2d62b8" stroke-width="1.70" stroke-linecap="round"/>
<path d="M525.97 100.8C517.87 100.2 510.97 105.5 510.77 113.4C510.57 120.5 515.87 126.0 523.37 126.3C519.87 123.0 518.67 118.5 518.97 114.0C519.27 108.8 521.97 104.0 525.97 100.8Z" fill="none" stroke="#111" stroke-width="1.75" stroke-linejoin="round"/><path d="M520.73 126.00C517.76 126.00 515.97 124.10 515.97 121.44C515.97 118.78 517.88 117.01 520.37 117.13C520.26 113.84 522.64 111.31 525.73 111.31C528.11 111.31 530.01 112.57 531.08 114.60C531.92 114.09 532.87 113.84 533.94 113.84C537.27 113.84 539.77 116.63 539.77 119.92C539.77 123.34 537.15 126.00 533.82 126.00Z" fill="#d0d0d0" stroke="#35567d" stroke-width="1.9" stroke-linejoin="round"/><path d="M531.08 114.60C529.30 115.87 528.35 117.64 528.59 119.67M520.37 117.13C521.45 117.13 522.40 117.64 523.11 118.40" fill="none" stroke="#35567d" stroke-width="1.61" stroke-linecap="round"/>
<path d="M547.64 124.3A6.5 6.5 0 1 1 552.54 112.2A6.4 6.4 0 0 1 564.54 109.2A7 7 0 0 1 571.54 122.6L571.14 124.3Z" fill="#d0d0d0" stroke="#35567d" stroke-width="1.9" stroke-linejoin="round"/><path d="M555.74 126.10C552.74 126.10 550.94 124.30 550.94 121.78C550.94 119.26 552.86 117.58 555.38 117.70C555.26 114.58 557.66 112.18 560.78 112.18C563.18 112.18 565.10 113.38 566.18 115.30C567.02 114.82 567.98 114.58 569.06 114.58C572.42 114.58 574.94 117.22 574.94 120.34C574.94 123.58 572.30 126.10 568.94 126.10Z" fill="#fff" stroke="#35567d" stroke-width="2.0" stroke-linejoin="round"/><path d="M566.18 115.30C564.38 116.50 563.42 118.18 563.66 120.10M555.38 117.70C556.46 117.70 557.42 118.18 558.14 118.90" fill="none" stroke="#35567d" stroke-width="1.70" stroke-linecap="round"/>
<path d="M582.21 124.3A6.5 6.5 0 1 1 587.11 112.2A6.4 6.4 0 0 1 599.11 109.2A7 7 0 0 1 606.11 122.6L605.71 124.3Z" fill="#d0d0d0" stroke="#2d62b8" stroke-width="1.9" stroke-linejoin="round"/><path d="M590.31 126.10C587.31 126.10 585.51 124.30 585.51 121.78C585.51 119.26 587.43 117.58 589.95 117.70C589.83 114.58 592.23 112.18 595.35 112.18C597.75 112.18 599.67 113.38 600.75 115.30C601.59 114.82 602.55 114.58 603.63 114.58C606.99 114.58 609.51 117.22 609.51 120.34C609.51 123.58 606.87 126.10 603.51 126.10Z" fill="#fff" stroke="#2d62b8" stroke-width="2.0" stroke-linejoin="round"/><path d="M600.75 115.30C598.95 116.50 597.99 118.18 598.23 120.10M589.95 117.70C591.03 117.70 591.99 118.18 592.71 118.90" fill="none" stroke="#2d62b8" stroke-width="1.70" stroke-linecap="round"/>
<path d="M640.11 115.18L645.27 115.27L645.53 113.80L640.65 112.12Z" fill="#f7e120" stroke="#f4b830" stroke-width="0.9" stroke-linejoin="round"/><path d="M640.07 109.54L643.79 105.96L642.93 104.73L638.29 107.00Z" fill="#f7e120" stroke="#f4b830" stroke-width="0.9" stroke-linejoin="round"/><path d="M636.06 105.58L636.16 100.42L634.68 100.16L633.01 105.04Z" fill="#f7e120" stroke="#f4b830" stroke-width="0.9" stroke-linejoin="round"/><path d="M630.43 105.61L626.85 101.89L625.62 102.75L627.89 107.39Z" fill="#f7e120" stroke="#f4b830" stroke-width="0.9" stroke-linejoin="round"/><path d="M626.46 109.62L621.30 109.53L621.04 111.00L625.93 112.68Z" fill="#f7e120" stroke="#f4b830" stroke-width="0.9" stroke-linejoin="round"/><path d="M626.50 115.26L622.78 118.84L623.64 120.07L628.28 117.80Z" fill="#f7e120" stroke="#f4b830" stroke-width="0.9" stroke-linejoin="round"/><path d="M630.51 119.22L630.41 124.38L631.89 124.64L633.56 119.76Z" fill="#f7e120" stroke="#f4b830" stroke-width="0.9" stroke-linejoin="round"/><path d="M636.15 119.19L639.73 122.91L640.96 122.05L638.69 117.41Z" fill="#f7e120" stroke="#f4b830" stroke-width="0.9" stroke-linejoin="round"/><circle cx="633.29" cy="112.40" r="6.3" fill="#f5e61a" stroke="#f7b21a" stroke-width="1"/><path d="M618.21 128.20C615.38 128.20 613.69 126.35 613.69 123.76C613.69 121.17 615.49 119.44 617.87 119.57C617.75 116.36 620.01 113.89 622.95 113.89C625.21 113.89 627.02 115.13 628.04 117.10C628.83 116.61 629.73 116.36 630.75 116.36C633.91 116.36 636.29 119.07 636.29 122.28C636.29 125.61 633.80 128.20 630.64 128.20Z" fill="#d0d0d0" stroke="#2d62b8" stroke-width="1.9" stroke-linejoin="round"/><path d="M628.04 117.10C626.34 118.33 625.44 120.06 625.66 122.03M617.87 119.57C618.88 119.57 619.79 120.06 620.47 120.80" fill="none" stroke="#2d62b8" stroke-width="1.61" stroke-linecap="round"/><line x1="622.09" y1="129.8" x2="620.59" y2="133.6" stroke="#2d62b8" stroke-width="1.9"/><line x1="626.49" y1="129.8" x2="624.99" y2="133.6" stroke="#2d62b8" stroke-width="1.9"/>
<path d="M664.46 100.8C656.36 100.2 649.46 105.5 649.26 113.4C649.06 120.5 654.36 126.0 661.86 126.3C658.36 123.0 657.16 118.5 657.46 114.0C657.76 108.8 660.46 104.0 664.46 100.8Z" fill="none" stroke="#111" stroke-width="1.75" stroke-linejoin="round"/><path d="M659.10 125.40C656.57 125.40 655.06 123.80 655.06 121.56C655.06 119.32 656.67 117.83 658.79 117.93C658.69 115.16 660.71 113.03 663.34 113.03C665.36 113.03 666.98 114.09 667.88 115.80C668.59 115.37 669.40 115.16 670.31 115.16C673.14 115.16 675.26 117.51 675.26 120.28C675.26 123.16 673.04 125.40 670.21 125.40Z" fill="#d0d0d0" stroke="#35567d" stroke-width="1.9" stroke-linejoin="round"/><path d="M667.88 115.80C666.37 116.87 665.56 118.36 665.76 120.07M658.79 117.93C659.70 117.93 660.51 118.36 661.12 119.00" fill="none" stroke="#35567d" stroke-width="1.61" stroke-linecap="round"/><line x1="666.36" y1="127.8" x2="664.86" y2="132.9" stroke="#35567d" stroke-width="2.3"/><line x1="671.36" y1="127.8" x2="669.86" y2="132.9" stroke="#35567d" stroke-width="2.3"/>
<path d="M701.23 100.8C693.13 100.2 686.23 105.5 686.03 113.4C685.83 120.5 691.13 126.0 698.63 126.3C695.13 123.0 693.93 118.5 694.23 114.0C694.53 108.8 697.23 104.0 701.23 100.8Z" fill="none" stroke="#111" stroke-width="1.75" stroke-linejoin="round"/><path d="M695.55 125.60C693.47 125.60 692.23 124.22 692.23 122.30C692.23 120.38 693.56 119.09 695.30 119.18C695.22 116.80 696.88 114.97 699.03 114.97C700.69 114.97 702.02 115.88 702.77 117.35C703.35 116.98 704.01 116.80 704.76 116.80C707.09 116.80 708.83 118.82 708.83 121.20C708.83 123.67 707.00 125.60 704.68 125.60Z" fill="#d0d0d0" stroke="#35567d" stroke-width="1.9" stroke-linejoin="round"/><path d="M702.77 117.35C701.52 118.27 700.86 119.55 701.03 121.02M695.30 119.18C696.05 119.18 696.71 119.55 697.21 120.10" fill="none" stroke="#35567d" stroke-width="1.61" stroke-linecap="round"/>
<path d="M736.52 115.86L741.68 115.96L741.94 114.48L737.06 112.81Z" fill="#f7e120" stroke="#f4b830" stroke-width="0.9" stroke-linejoin="round"/><path d="M736.51 110.30L740.22 106.72L739.36 105.49L734.73 107.76Z" fill="#f7e120" stroke="#f4b830" stroke-width="0.9" stroke-linejoin="round"/><path d="M732.56 106.38L732.66 101.22L731.18 100.96L729.51 105.84Z" fill="#f7e120" stroke="#f4b830" stroke-width="0.9" stroke-linejoin="round"/><path d="M727.00 106.39L723.42 102.68L722.19 103.54L724.46 108.17Z" fill="#f7e120" stroke="#f4b830" stroke-width="0.9" stroke-linejoin="round"/><path d="M723.08 110.34L717.92 110.24L717.66 111.72L722.54 113.39Z" fill="#f7e120" stroke="#f4b830" stroke-width="0.9" stroke-linejoin="round"/><path d="M723.09 115.90L719.38 119.48L720.24 120.71L724.87 118.44Z" fill="#f7e120" stroke="#f4b830" stroke-width="0.9" stroke-linejoin="round"/><path d="M727.04 119.82L726.94 124.98L728.42 125.24L730.09 120.36Z" fill="#f7e120" stroke="#f4b830" stroke-width="0.9" stroke-linejoin="round"/><path d="M732.60 119.81L736.18 123.52L737.41 122.66L735.14 118.03Z" fill="#f7e120" stroke="#f4b830" stroke-width="0.9" stroke-linejoin="round"/><circle cx="729.80" cy="113.10" r="6.2" fill="#f5e61a" stroke="#f7b21a" stroke-width="1"/><path d="M732.80 125.40C730.67 125.40 729.40 123.97 729.40 121.98C729.40 119.98 730.76 118.66 732.54 118.75C732.46 116.28 734.16 114.38 736.37 114.38C738.07 114.38 739.43 115.33 740.19 116.85C740.79 116.47 741.47 116.28 742.24 116.28C744.62 116.28 746.40 118.37 746.40 120.84C746.40 123.41 744.53 125.40 742.15 125.40Z" fill="#fff" stroke="#2d62b8" stroke-width="2.0" stroke-linejoin="round"/><path d="M740.19 116.85C738.92 117.80 738.24 119.13 738.41 120.65M732.54 118.75C733.31 118.75 733.99 119.13 734.50 119.70" fill="none" stroke="#2d62b8" stroke-width="1.70" stroke-linecap="round"/>
<path d="M771.09 115.86L776.26 115.96L776.52 114.48L771.63 112.81Z" fill="#f7e120" stroke="#f4b830" stroke-width="0.9" stroke-linejoin="round"/><path d="M771.08 110.30L774.80 106.72L773.93 105.49L769.30 107.76Z" fill="#f7e120" stroke="#f4b830" stroke-width="0.9" stroke-linejoin="round"/><path d="M767.13 106.38L767.23 101.22L765.75 100.96L764.08 105.84Z" fill="#f7e120" stroke="#f4b830" stroke-width="0.9" stroke-linejoin="round"/><path d="M761.57 106.39L757.99 102.68L756.76 103.54L759.03 108.17Z" fill="#f7e120" stroke="#f4b830" stroke-width="0.9" stroke-linejoin="round"/><path d="M757.65 110.34L752.49 110.24L752.23 111.72L757.11 113.39Z" fill="#f7e120" stroke="#f4b830" stroke-width="0.9" stroke-linejoin="round"/><path d="M757.67 115.90L753.95 119.48L754.81 120.71L759.44 118.44Z" fill="#f7e120" stroke="#f4b830" stroke-width="0.9" stroke-linejoin="round"/><path d="M761.61 119.82L761.51 124.98L762.99 125.24L764.66 120.36Z" fill="#f7e120" stroke="#f4b830" stroke-width="0.9" stroke-linejoin="round"/><path d="M767.17 119.81L770.75 123.52L771.98 122.66L769.71 118.03Z" fill="#f7e120" stroke="#f4b830" stroke-width="0.9" stroke-linejoin="round"/><circle cx="764.37" cy="113.10" r="6.2" fill="#f5e61a" stroke="#f7b21a" stroke-width="1"/><path d="M767.37 125.40C765.25 125.40 763.97 123.97 763.97 121.98C763.97 119.98 765.33 118.66 767.12 118.75C767.03 116.28 768.73 114.38 770.94 114.38C772.64 114.38 774.00 115.33 774.77 116.85C775.36 116.47 776.04 116.28 776.81 116.28C779.19 116.28 780.97 118.37 780.97 120.84C780.97 123.41 779.10 125.40 776.72 125.40Z" fill="#fff" stroke="#2d62b8" stroke-width="2.0" stroke-linejoin="round"/><path d="M774.77 116.85C773.49 117.80 772.81 119.13 772.98 120.65M767.12 118.75C767.88 118.75 768.56 119.13 769.07 119.70" fill="none" stroke="#2d62b8" stroke-width="1.70" stroke-linecap="round"/>
<path d="M804.94 100.8C796.84 100.2 789.94 105.5 789.74 113.4C789.54 120.5 794.84 126.0 802.34 126.3C798.84 123.0 797.64 118.5 797.94 114.0C798.24 108.8 800.94 104.0 804.94 100.8Z" fill="none" stroke="#111" stroke-width="1.75" stroke-linejoin="round"/><path d="M799.26 125.60C797.19 125.60 795.94 124.22 795.94 122.30C795.94 120.38 797.27 119.09 799.01 119.18C798.93 116.80 800.59 114.97 802.75 114.97C804.41 114.97 805.74 115.88 806.48 117.35C807.06 116.98 807.73 116.80 808.48 116.80C810.80 116.80 812.54 118.82 812.54 121.20C812.54 123.67 810.72 125.60 808.39 125.60Z" fill="#d0d0d0" stroke="#35567d" stroke-width="1.9" stroke-linejoin="round"/><path d="M806.48 117.35C805.24 118.27 804.57 119.55 804.74 121.02M799.01 119.18C799.76 119.18 800.42 119.55 800.92 120.10" fill="none" stroke="#35567d" stroke-width="1.61" stroke-linecap="round"/>
<path d="M839.51 100.8C831.41 100.2 824.51 105.5 824.31 113.4C824.11 120.5 829.41 126.0 836.91 126.3C833.41 123.0 832.21 118.5 832.51 114.0C832.81 108.8 835.51 104.0 839.51 100.8Z" fill="none" stroke="#111" stroke-width="1.75" stroke-linejoin="round"/><path d="M833.83 125.60C831.76 125.60 830.51 124.22 830.51 122.30C830.51 120.38 831.84 119.09 833.59 119.18C833.50 116.80 835.16 114.97 837.32 114.97C838.98 114.97 840.31 115.88 841.06 117.35C841.64 116.98 842.30 116.80 843.05 116.80C845.37 116.80 847.11 118.82 847.11 121.20C847.11 123.67 845.29 125.60 842.96 125.60Z" fill="#d0d0d0" stroke="#35567d" stroke-width="1.9" stroke-linejoin="round"/><path d="M841.06 117.35C839.81 118.27 839.15 119.55 839.31 121.02M833.59 119.18C834.33 119.18 835.00 119.55 835.49 120.10" fill="none" stroke="#35567d" stroke-width="1.61" stroke-linecap="round"/>
<path d="M874.81 115.86L879.97 115.96L880.23 114.48L875.35 112.81Z" fill="#f7e120" stroke="#f4b830" stroke-width="0.9" stroke-linejoin="round"/><path d="M874.79 110.30L878.51 106.72L877.65 105.49L873.01 107.76Z" fill="#f7e120" stroke="#f4b830" stroke-width="0.9" stroke-linejoin="round"/><path d="M870.85 106.38L870.94 101.22L869.47 100.96L867.79 105.84Z" fill="#f7e120" stroke="#f4b830" stroke-width="0.9" stroke-linejoin="round"/><path d="M865.28 106.39L861.70 102.68L860.47 103.54L862.74 108.17Z" fill="#f7e120" stroke="#f4b830" stroke-width="0.9" stroke-linejoin="round"/><path d="M861.36 110.34L856.20 110.24L855.94 111.72L860.82 113.39Z" fill="#f7e120" stroke="#f4b830" stroke-width="0.9" stroke-linejoin="round"/><path d="M861.38 115.90L857.66 119.48L858.52 120.71L863.16 118.44Z" fill="#f7e120" stroke="#f4b830" stroke-width="0.9" stroke-linejoin="round"/><path d="M865.33 119.82L865.23 124.98L866.71 125.24L868.38 120.36Z" fill="#f7e120" stroke="#f4b830" stroke-width="0.9" stroke-linejoin="round"/><path d="M870.89 119.81L874.47 123.52L875.70 122.66L873.43 118.03Z" fill="#f7e120" stroke="#f4b830" stroke-width="0.9" stroke-linejoin="round"/><circle cx="868.09" cy="113.10" r="6.2" fill="#f5e61a" stroke="#f7b21a" stroke-width="1"/><path d="M871.09 125.40C868.96 125.40 867.69 123.97 867.69 121.98C867.69 119.98 869.05 118.66 870.83 118.75C870.75 116.28 872.45 114.38 874.66 114.38C876.36 114.38 877.72 115.33 878.48 116.85C879.08 116.47 879.76 116.28 880.52 116.28C882.90 116.28 884.69 118.37 884.69 120.84C884.69 123.41 882.82 125.40 880.44 125.40Z" fill="#fff" stroke="#2d62b8" stroke-width="2.0" stroke-linejoin="round"/><path d="M878.48 116.85C877.21 117.80 876.53 119.13 876.70 120.65M870.83 118.75C871.60 118.75 872.28 119.13 872.79 119.70" fill="none" stroke="#2d62b8" stroke-width="1.70" stroke-linecap="round"/>
<path d="M909.38 115.86L914.54 115.96L914.80 114.48L909.92 112.81Z" fill="#f7e120" stroke="#f4b830" stroke-width="0.9" stroke-linejoin="round"/><path d="M909.36 110.30L913.08 106.72L912.22 105.49L907.58 107.76Z" fill="#f7e120" stroke="#f4b830" stroke-width="0.9" stroke-linejoin="round"/><path d="M905.42 106.38L905.51 101.22L904.04 100.96L902.36 105.84Z" fill="#f7e120" stroke="#f4b830" stroke-width="0.9" stroke-linejoin="round"/><path d="M899.85 106.39L896.27 102.68L895.05 103.54L897.32 108.17Z" fill="#f7e120" stroke="#f4b830" stroke-width="0.9" stroke-linejoin="round"/><path d="M895.93 110.34L890.77 110.24L890.51 111.72L895.40 113.39Z" fill="#f7e120" stroke="#f4b830" stroke-width="0.9" stroke-linejoin="round"/><path d="M895.95 115.90L892.23 119.48L893.09 120.71L897.73 118.44Z" fill="#f7e120" stroke="#f4b830" stroke-width="0.9" stroke-linejoin="round"/><path d="M899.90 119.82L899.80 124.98L901.28 125.24L902.95 120.36Z" fill="#f7e120" stroke="#f4b830" stroke-width="0.9" stroke-linejoin="round"/><path d="M905.46 119.81L909.04 123.52L910.27 122.66L908.00 118.03Z" fill="#f7e120" stroke="#f4b830" stroke-width="0.9" stroke-linejoin="round"/><circle cx="902.66" cy="113.10" r="6.2" fill="#f5e61a" stroke="#f7b21a" stroke-width="1"/><path d="M905.66 125.40C903.53 125.40 902.26 123.97 902.26 121.98C902.26 119.98 903.62 118.66 905.40 118.75C905.32 116.28 907.02 114.38 909.23 114.38C910.93 114.38 912.29 115.33 913.05 116.85C913.65 116.47 914.33 116.28 915.09 116.28C917.47 116.28 919.26 118.37 919.26 120.84C919.26 123.41 917.39 125.40 915.01 125.40Z" fill="#fff" stroke="#2d62b8" stroke-width="2.0" stroke-linejoin="round"/><path d="M913.05 116.85C911.78 117.80 911.10 119.13 911.27 120.65M905.40 118.75C906.17 118.75 906.85 119.13 907.36 119.70" fill="none" stroke="#2d62b8" stroke-width="1.70" stroke-linecap="round"/>
<path d="M946.93 100.8C938.23 100.6 932.13 106.5 932.33 113.9C932.53 121.0 939.23 126.3 946.93 126.3C941.73 122.5 939.93 118.0 939.93 113.6C939.93 108.8 942.33 104.2 946.93 100.8Z" fill="none" stroke="#111" stroke-width="1.75" stroke-linejoin="round"/>
<path d="M981.50 100.8C972.80 100.6 966.70 106.5 966.90 113.9C967.10 121.0 973.80 126.3 981.50 126.3C976.30 122.5 974.50 118.0 974.50 113.6C974.50 108.8 976.90 104.2 981.50 100.8Z" fill="none" stroke="#111" stroke-width="1.75" stroke-linejoin="round"/>
<path d="M1013.09 115.86L1018.26 115.96L1018.52 114.48L1013.63 112.81Z" fill="#f7e120" stroke="#f4b830" stroke-width="0.9" stroke-linejoin="round"/><path d="M1013.08 110.30L1016.80 106.72L1015.93 105.49L1011.30 107.76Z" fill="#f7e120" stroke="#f4b830" stroke-width="0.9" stroke-linejoin="round"/><path d="M1009.13 106.38L1009.23 101.22L1007.75 100.96L1006.08 105.84Z" fill="#f7e120" stroke="#f4b830" stroke-width="0.9" stroke-linejoin="round"/><path d="M1003.57 106.39L999.99 102.68L998.76 103.54L1001.03 108.17Z" fill="#f7e120" stroke="#f4b830" stroke-width="0.9" stroke-linejoin="round"/><path d="M999.65 110.34L994.49 110.24L994.23 111.72L999.11 113.39Z" fill="#f7e120" stroke="#f4b830" stroke-width="0.9" stroke-linejoin="round"/><path d="M999.67 115.90L995.95 119.48L996.81 120.71L1001.44 118.44Z" fill="#f7e120" stroke="#f4b830" stroke-width="0.9" stroke-linejoin="round"/><path d="M1003.61 119.82L1003.51 124.98L1004.99 125.24L1006.66 120.36Z" fill="#f7e120" stroke="#f4b830" stroke-width="0.9" stroke-linejoin="round"/><path d="M1009.17 119.81L1012.75 123.52L1013.98 122.66L1011.71 118.03Z" fill="#f7e120" stroke="#f4b830" stroke-width="0.9" stroke-linejoin="round"/><circle cx="1006.37" cy="113.10" r="6.2" fill="#f5e61a" stroke="#f7b21a" stroke-width="1"/><path d="M1009.37 125.40C1007.25 125.40 1005.97 123.97 1005.97 121.98C1005.97 119.98 1007.33 118.66 1009.12 118.75C1009.03 116.28 1010.73 114.38 1012.94 114.38C1014.64 114.38 1016.00 115.33 1016.77 116.85C1017.36 116.47 1018.04 116.28 1018.81 116.28C1021.19 116.28 1022.97 118.37 1022.97 120.84C1022.97 123.41 1021.10 125.40 1018.72 125.40Z" fill="#fff" stroke="#2d62b8" stroke-width="2.0" stroke-linejoin="round"/><path d="M1016.77 116.85C1015.49 117.80 1014.81 119.13 1014.98 120.65M1009.12 118.75C1009.88 118.75 1010.56 119.13 1011.07 119.70" fill="none" stroke="#2d62b8" stroke-width="1.70" stroke-linecap="round"/>
<path d="M1051.47 114.62L1056.63 114.72L1056.89 113.25L1052.01 111.57Z" fill="#f7e120" stroke="#f4b830" stroke-width="0.9" stroke-linejoin="round"/><path d="M1051.48 109.21L1055.20 105.63L1054.34 104.40L1049.71 106.67Z" fill="#f7e120" stroke="#f4b830" stroke-width="0.9" stroke-linejoin="round"/><path d="M1047.67 105.37L1047.77 100.21L1046.29 99.95L1044.61 104.84Z" fill="#f7e120" stroke="#f4b830" stroke-width="0.9" stroke-linejoin="round"/><path d="M1042.25 105.36L1038.67 101.64L1037.45 102.50L1039.72 107.14Z" fill="#f7e120" stroke="#f4b830" stroke-width="0.9" stroke-linejoin="round"/><path d="M1038.42 109.18L1033.26 109.08L1032.99 110.55L1037.88 112.23Z" fill="#f7e120" stroke="#f4b830" stroke-width="0.9" stroke-linejoin="round"/><path d="M1038.40 114.59L1034.68 118.17L1035.54 119.40L1040.18 117.13Z" fill="#f7e120" stroke="#f4b830" stroke-width="0.9" stroke-linejoin="round"/><path d="M1042.22 118.43L1042.12 123.59L1043.60 123.85L1045.27 118.96Z" fill="#f7e120" stroke="#f4b830" stroke-width="0.9" stroke-linejoin="round"/><path d="M1047.63 118.44L1051.21 122.16L1052.44 121.30L1050.17 116.66Z" fill="#f7e120" stroke="#f4b830" stroke-width="0.9" stroke-linejoin="round"/><circle cx="1044.94" cy="111.90" r="6.0" fill="#f5e61a" stroke="#f7b21a" stroke-width="1"/><path d="M1030.62 127.80C1027.95 127.80 1026.34 125.97 1026.34 123.42C1026.34 120.87 1028.05 119.16 1030.30 119.28C1030.19 116.12 1032.33 113.69 1035.12 113.69C1037.26 113.69 1038.97 114.90 1039.93 116.85C1040.68 116.36 1041.54 116.12 1042.50 116.12C1045.50 116.12 1047.74 118.80 1047.74 121.96C1047.74 125.25 1045.39 127.80 1042.39 127.80Z" fill="#d0d0d0" stroke="#2d62b8" stroke-width="1.9" stroke-linejoin="round"/><path d="M1039.93 116.85C1038.33 118.07 1037.47 119.77 1037.68 121.72M1030.30 119.28C1031.26 119.28 1032.12 119.77 1032.76 120.50" fill="none" stroke="#2d62b8" stroke-width="1.61" stroke-linecap="round"/>
<path d="M1079.11 100.8C1071.01 100.2 1064.11 105.5 1063.91 113.4C1063.71 120.5 1069.01 126.0 1076.51 126.3C1073.01 123.0 1071.81 118.5 1072.11 114.0C1072.41 108.8 1075.11 104.0 1079.11 100.8Z" fill="none" stroke="#111" stroke-width="1.75" stroke-linejoin="round"/><path d="M1073.87 126.00C1070.90 126.00 1069.11 124.10 1069.11 121.44C1069.11 118.78 1071.02 117.01 1073.52 117.13C1073.40 113.84 1075.78 111.31 1078.87 111.31C1081.25 111.31 1083.16 112.57 1084.23 114.60C1085.06 114.09 1086.01 113.84 1087.08 113.84C1090.42 113.84 1092.91 116.63 1092.91 119.92C1092.91 123.34 1090.30 126.00 1086.96 126.00Z" fill="#d0d0d0" stroke="#35567d" stroke-width="1.9" stroke-linejoin="round"/><path d="M1084.23 114.60C1082.44 115.87 1081.49 117.64 1081.73 119.67M1073.52 117.13C1074.59 117.13 1075.54 117.64 1076.25 118.40" fill="none" stroke="#35567d" stroke-width="1.61" stroke-linecap="round"/>
</g>
<g stroke="#0a0a0a" stroke-width="2.0" fill="none" stroke-linecap="butt">
<ellipse cx="127.00" cy="153.2" rx="3.7" ry="3.5" stroke-width="1.7"/>
<ellipse cx="144.29" cy="153.2" rx="3.7" ry="3.5" stroke-width="1.7"/>
<ellipse cx="161.57" cy="153.2" rx="3.7" ry="3.5" stroke-width="1.7"/>
<path d="M168.91 160.43L188.81 145.97M172.29 157.97L167.65 154.84"/>
<path d="M189.62 163.63L202.66 142.77M191.84 160.08L186.36 158.92"/>
<path d="M204.15 161.27L222.71 145.13M207.30 158.53L202.40 155.81"/>
<path d="M218.41 153.20L243.01 153.20M222.60 153.20L220.68 147.94"/>
<path d="M235.70 153.20L260.30 153.20M239.88 153.20L237.97 147.94"/>
<path d="M252.99 153.20L277.59 153.20M257.17 153.20L255.25 147.94"/>
<path d="M271.71 147.43L293.43 158.97M275.40 149.39L276.18 143.84"/>
<path d="M298.57 140.97L301.14 165.43M299.01 145.13L304.04 142.67"/>
<ellipse cx="317.14" cy="153.2" rx="3.7" ry="3.5" stroke-width="1.7"/>
<path d="M326.52 162.62L342.33 143.78M329.21 159.42L323.95 157.50"/>
<path d="M345.94 164.06L357.49 142.34M347.90 160.37L342.36 159.59"/>
<path d="M358.04 147.62L379.96 158.78M361.77 149.51L362.45 143.96"/>
<path d="M373.99 153.20L398.59 153.20M378.17 153.20L376.25 147.94"/>
<path d="M391.27 153.20L415.87 153.20M395.45 153.20L393.54 147.94"/>
<path d="M408.56 152.77L433.15 153.63M412.74 152.92L411.01 147.59"/>
<path d="M425.84 153.20L450.44 153.20M430.02 153.20L428.11 147.94"/>
<path d="M445.11 159.90L465.74 146.50M448.62 157.62L444.15 154.25"/>
<path d="M463.87 161.74L481.56 144.66M466.87 158.84L461.84 156.38"/>
<path d="M479.80 160.08L500.20 146.32M483.27 157.74L478.74 154.45"/>
<path d="M496.53 159.16L518.04 147.24M500.19 157.14L495.96 153.46"/>
<path d="M514.26 159.90L534.89 146.50M517.76 157.62L513.29 154.25"/>
<path d="M531.78 160.25L551.93 146.15M535.21 157.86L530.62 154.64"/>
<path d="M549.45 160.77L568.84 145.63M552.75 158.20L548.00 155.23"/>
<path d="M566.87 160.94L585.99 145.46M570.12 158.31L565.32 155.42"/>
<path d="M585.81 162.62L601.62 143.78M588.50 159.42L583.23 157.50"/>
<path d="M602.46 162.05L619.54 144.35M605.36 159.04L600.24 156.76"/>
<path d="M619.15 161.43L637.43 144.97M622.25 158.63L617.31 156.00"/>
<path d="M635.50 160.25L655.65 146.15M638.92 157.86L634.33 154.64"/>
<path d="M651.90 158.78L673.82 147.62M655.62 156.89L651.53 153.07"/>
<path d="M668.82 158.01L691.47 148.39M672.67 156.37L668.85 152.28"/>
<path d="M686.67 159.16L708.19 147.24M690.33 157.14L686.10 153.46"/>
<path d="M703.85 158.97L725.57 147.43M707.55 157.01L703.38 153.26"/>
<path d="M722.44 160.94L741.56 145.46M725.69 158.31L720.89 155.42"/>
<path d="M739.73 160.94L758.84 145.46M742.98 158.31L738.18 155.42"/>
<path d="M756.62 160.43L776.52 145.97M760.00 157.97L755.36 154.84"/>
<path d="M773.10 159.16L794.61 147.24M776.76 157.14L772.53 153.46"/>
<path d="M790.28 158.97L812.00 147.43M793.98 157.01L789.81 153.26"/>
<path d="M806.20 154.49L830.66 151.91M810.36 154.05L807.90 149.02"/>
<path d="M823.41 153.20L848.01 153.20M827.60 153.20L825.68 147.94"/>
<ellipse cx="853.00" cy="153.2" rx="3.7" ry="3.5" stroke-width="1.7"/>
<ellipse cx="870.29" cy="153.2" rx="3.7" ry="3.5" stroke-width="1.7"/>
<path d="M881.42 163.85L893.72 142.55M883.51 160.23L878.00 159.26"/>
<path d="M897.63 163.15L912.09 143.25M900.09 159.77L894.70 158.22"/>
<path d="M914.24 162.62L930.05 143.78M916.92 159.42L911.66 157.50"/>
<path d="M931.36 162.48L947.50 143.92M934.10 159.33L928.87 157.32"/>
<path d="M950.20 163.63L963.23 142.77M952.41 160.08L946.93 158.92"/>
<path d="M967.30 163.52L980.70 142.88M969.58 160.01L964.12 158.75"/>
<path d="M985.51 164.06L997.06 142.34M987.47 160.37L981.93 159.59"/>
<path d="M1001.69 163.40L1015.45 143.00M1004.03 159.93L998.60 158.58"/>
<path d="M1017.79 162.48L1033.93 143.92M1020.53 159.33L1015.30 157.32"/>
<path d="M1034.91 162.34L1051.37 144.06M1037.71 159.23L1032.52 157.14"/>
<path d="M1052.36 162.48L1068.50 143.92M1055.10 159.33L1049.87 157.32"/>
<path d="M1070.66 163.28L1084.77 143.12M1073.06 159.85L1067.65 158.40"/>
<path d="M1087.95 163.28L1102.05 143.12M1090.34 159.85L1084.93 158.40"/>
</g>
<text transform="matrix(0.08038 0 0 0.07793 9.44 21.40)" font-size="200" fill="#0000ff">(kraj lahko izberete v meniju)</text>
<text transform="matrix(0.11920 0 0 0.11103 399.88 36.00)" font-size="200" fill="#0000ff">Zagreb 7 dni</text>
<text transform="matrix(0.07989 0 0 0.07655 860.52 21.50)" font-size="200" fill="#0000ff">Zadnja posodobitev: 27.10.2025 - 10:09</text>
<text transform="matrix(0.10136 0 0 0.09276 146.53 68.75)" font-size="200" fill="#000">ponedeljek</text>
<text transform="matrix(0.09959 0 0 0.08893 170.90 89.75)" font-size="200" fill="#000">27.10</text>
<text transform="matrix(0.10068 0 0 0.09276 311.00 68.75)" font-size="200" fill="#000">torek</text>
<text transform="matrix(0.10021 0 0 0.08893 308.80 89.75)" font-size="200" fill="#000">28.10</text>
<text transform="matrix(0.09597 0 0 0.09276 447.92 68.75)" font-size="200" fill="#000">sreda</text>
<text transform="matrix(0.10021 0 0 0.08893 446.60 89.75)" font-size="200" fill="#000">29.10</text>
<text transform="matrix(0.10455 0 0 0.09276 579.16 68.75)" font-size="200" fill="#000">četrtek</text>
<text transform="matrix(0.09979 0 0 0.08893 585.05 89.75)" font-size="200" fill="#000">30.10</text>
<text transform="matrix(0.10199 0 0 0.09276 723.78 68.75)" font-size="200" fill="#000">petek</text>
<text transform="matrix(0.10000 0 0 0.08893 723.20 89.75)" font-size="200" fill="#000">31.10</text>
<text transform="matrix(0.09773 0 0 0.09276 857.01 68.75)" font-size="200" fill="#cc0000">sobota</text>
<text transform="matrix(0.10288 0 0 0.08893 861.78 89.75)" font-size="200" fill="#cc0000">01.11</text>
<text transform="matrix(0.10071 0 0 0.09276 992.44 68.75)" font-size="200" fill="#cc0000">nedelja</text>
<text transform="matrix(0.10288 0 0 0.08893 999.78 89.75)" font-size="200" fill="#cc0000">02.11</text>
<text transform="matrix(0.09565 0 0 0.08714 150.60 376.80)" font-size="200" fill="#000">06</text>
<text transform="matrix(0.09697 0 0 0.08714 184.69 376.80)" font-size="200" fill="#000">12</text>
<text transform="matrix(0.09548 0 0 0.08714 219.38 376.80)" font-size="200" fill="#000">18</text>
<text transform="matrix(0.09565 0 0 0.08714 288.89 376.80)" font-size="200" fill="#000">06</text>
<text transform="matrix(0.09697 0 0 0.08714 322.97 376.80)" font-size="200" fill="#000">12</text>
<text transform="matrix(0.09548 0 0 0.08714 357.67 376.80)" font-size="200" fill="#000">18</text>
<text transform="matrix(0.09565 0 0 0.08714 427.17 376.80)" font-size="200" fill="#000">06</text>
<text transform="matrix(0.09697 0 0 0.08714 461.26 376.80)" font-size="200" fill="#000">12</text>
<text transform="matrix(0.09548 0 0 0.08714 495.95 376.80)" font-size="200" fill="#000">18</text>
<text transform="matrix(0.09565 0 0 0.08714 565.46 376.80)" font-size="200" fill="#000">06</text>
<text transform="matrix(0.09697 0 0 0.08714 599.55 376.80)" font-size="200" fill="#000">12</text>
<text transform="matrix(0.09548 0 0 0.08714 634.24 376.80)" font-size="200" fill="#000">18</text>
<text transform="matrix(0.09565 0 0 0.08714 703.74 376.80)" font-size="200" fill="#000">06</text>
<text transform="matrix(0.09697 0 0 0.08714 737.83 376.80)" font-size="200" fill="#000">12</text>
<text transform="matrix(0.09548 0 0 0.08714 772.52 376.80)" font-size="200" fill="#000">18</text>
<text transform="matrix(0.09565 0 0 0.08714 842.03 376.80)" font-size="200" fill="#000">06</text>
<text transform="matrix(0.09697 0 0 0.08714 876.12 376.80)" font-size="200" fill="#000">12</text>
<text transform="matrix(0.09548 0 0 0.08714 910.81 376.80)" font-size="200" fill="#000">18</text>
<text transform="matrix(0.09565 0 0 0.08714 980.32 376.80)" font-size="200" fill="#000">06</text>
<text transform="matrix(0.09697 0 0 0.08714 1014.40 376.80)" font-size="200" fill="#000">12</text>
<text transform="matrix(0.09548 0 0 0.08714 1049.10 376.80)" font-size="200" fill="#000">18</text>
<text transform="matrix(0.09868 0 0 0.09241 253.14 376.80)" font-size="200" fill="#000">tor</text>
<text transform="matrix(0.09736 0 0 0.09241 389.58 376.80)" font-size="200" fill="#000">sre</text>
<text transform="matrix(0.10310 0 0 0.09241 527.13 376.80)" font-size="200" fill="#000">čet</text>
<text transform="matrix(0.10868 0 0 0.09241 663.84 376.80)" font-size="200" fill="#000">pet</text>
<text transform="matrix(0.10032 0 0 0.09241 801.83 376.80)" font-size="200" fill="#000">sob</text>
<text transform="matrix(0.10519 0 0 0.09241 938.55 376.80)" font-size="200" fill="#000">ned</text>
<text transform="matrix(0.09691 0 0 0.08786 112.22 365.70)" font-size="200" fill="#000">0</text>
<text transform="matrix(0.09195 0 0 0.08786 112.72 328.34)" font-size="200" fill="#000">1</text>
<text transform="matrix(0.10217 0 0 0.08786 111.88 290.98)" font-size="200" fill="#000">2</text>
<text transform="matrix(0.09687 0 0 0.08786 112.32 253.62)" font-size="200" fill="#000">3</text>
<text transform="matrix(0.09706 0 0 0.08786 113.01 216.26)" font-size="200" fill="#000">4</text>
<text transform="matrix(0.09895 0 0 0.08786 112.11 178.90)" font-size="200" fill="#000">5</text>
<text transform="matrix(0.08506 0 0 0.08786 47.12 365.70)" font-size="200" fill="#ff0000">1</text>
<text transform="matrix(0.10215 0 0 0.08786 46.08 328.34)" font-size="200" fill="#ff0000">6</text>
<text transform="matrix(0.10164 0 0 0.08786 46.88 290.98)" font-size="200" fill="#ff0000">11</text>
<text transform="matrix(0.09548 0 0 0.08786 46.57 253.62)" font-size="200" fill="#ff0000">15</text>
<text transform="matrix(0.09854 0 0 0.08786 45.81 216.26)" font-size="200" fill="#ff0000">20</text>
<text transform="matrix(0.09755 0 0 0.08786 46.12 178.90)" font-size="200" fill="#ff0000">25</text>
<text transform="matrix(0.09794 0 0 0.08786 1099.81 365.70)" font-size="200" fill="#000">0</text>
<text transform="matrix(0.09608 0 0 0.08786 1099.96 328.34)" font-size="200" fill="#000">1.5</text>
<text transform="matrix(0.09278 0 0 0.08786 1099.95 290.98)" font-size="200" fill="#000">3.5</text>
<text transform="matrix(0.09847 0 0 0.08786 1099.22 253.62)" font-size="200" fill="#000">6.0</text>
<text transform="matrix(0.09885 0 0 0.08786 1099.11 216.26)" font-size="200" fill="#000">9.0</text>
<text transform="matrix(0.09257 0 0 0.08786 1099.61 178.90)" font-size="200" fill="#000">14</text>
<text transform="rotate(-90 34.8 266.20000000000005) matrix(0.10842 0 0 0.10207 -48.03 266.20)" font-size="200" fill="#ff0000">Temperatura (°C)</text>
<text transform="rotate(-90 100.4 264.20000000000005) matrix(0.10756 0 0 0.10759 18.28 264.20)" font-size="200" fill="#000">Padavine (mm/h)</text>
<text transform="rotate(-90 1144.0 255.3) matrix(0.10786 0 0 0.10069 1050.70 255.30)" font-size="200" fill="#000">Višina oblakov (km)</text>
<text transform="matrix(0.10217 0 0 0.08786 150.08 332.70)" font-size="200" fill="#000">7</text>
<text transform="matrix(0.10101 0 0 0.08786 196.18 295.60)" font-size="200" fill="#000">12</text>
<text transform="matrix(0.10108 0 0 0.08786 288.09 337.70)" font-size="200" fill="#000">6</text>
<text transform="matrix(0.10050 0 0 0.08786 333.99 273.90)" font-size="200" fill="#000">15</text>
<text transform="matrix(0.09895 0 0 0.08786 421.21 329.00)" font-size="200" fill="#000">8</text>
<text transform="matrix(0.10101 0 0 0.08786 472.48 252.60)" font-size="200" fill="#000">17</text>
<text transform="matrix(0.10101 0 0 0.08786 523.78 293.90)" font-size="200" fill="#000">12</text>
<text transform="matrix(0.10050 0 0 0.08786 605.29 243.40)" font-size="200" fill="#000">18</text>
<text transform="matrix(0.10050 0 0 0.08786 697.29 285.60)" font-size="200" fill="#000">13</text>
<text transform="matrix(0.09852 0 0 0.08786 743.21 227.20)" font-size="200" fill="#000">21</text>
<text transform="matrix(0.10101 0 0 0.08786 835.18 290.60)" font-size="200" fill="#000">12</text>
<text transform="matrix(0.09756 0 0 0.08786 887.32 231.90)" font-size="200" fill="#000">20</text>
<text transform="matrix(0.10101 0 0 0.08786 973.98 297.60)" font-size="200" fill="#000">12</text>
<text transform="matrix(0.10101 0 0 0.08786 1024.88 240.20)" font-size="200" fill="#000">19</text>
<text transform="matrix(0.10050 0 0 0.08786 1083.09 283.80)" font-size="200" fill="#000">13</text>
<rect x="127.2" y="390" width="31.8" height="10.7" fill="#0a50ff"/>
<rect x="165" y="386" width="105" height="19.8" fill="#fff"/>
<text transform="matrix(0.10091 0 0 0.09493 168.29 401.70)" font-size="200" fill="#000">Dež</text>
<rect x="278.2" y="390" width="31.8" height="10.7" fill="#10d8c6"/>
<rect x="310" y="386" width="110" height="19.8" fill="#fff"/>
<text transform="matrix(0.09871 0 0 0.09420 318.12 401.70)" font-size="200" fill="#000">Možnost ploh</text>
<text transform="matrix(0.07925 0 0 0.07786 499.26 401.70)" font-size="200" fill="#0000ff">© vreme.us &amp; vreme.pro</text>
<rect x="759.5" y="386" width="180.5" height="19.8" fill="#fff"/>
<text transform="matrix(0.09698 0 0 0.08966 759.13 401.70)" font-size="200" fill="#000">Gostota oblakov (%)</text>
<rect x="949.4" y="385.5" width="29.0" height="13" fill="#d0d0d0"/>
<rect x="978.1" y="385.5" width="29.1" height="13" fill="#b0b0b0"/>
<rect x="1006.9" y="385.5" width="29.3" height="13" fill="#909090"/>
<rect x="1035.9" y="385.5" width="29.4" height="13" fill="#707070"/>
<rect x="1065.0" y="385.5" width="30.0" height="13" fill="#555555"/>
<rect x="949.4" y="385.5" width="145.3" height="13" fill="none" stroke="#333" stroke-width="0.9"/>
<text transform="matrix(0.08000 0 0 0.07929 940.60 414.80)" font-size="200" fill="#000">10</text>
<text transform="matrix(0.08284 0 0 0.07929 968.17 414.80)" font-size="200" fill="#000">25</text>
<text transform="matrix(0.08213 0 0 0.07929 997.34 414.80)" font-size="200" fill="#000">50</text>
<text transform="matrix(0.08088 0 0 0.07929 1026.39 414.80)" font-size="200" fill="#000">75</text>
<text transform="matrix(0.08398 0 0 0.07929 1055.64 414.80)" font-size="200" fill="#000">90</text>
<text transform="matrix(0.08392 0 0 0.07929 1080.64 414.80)" font-size="200" fill="#000">100</text>
</svg>
</body></html>
